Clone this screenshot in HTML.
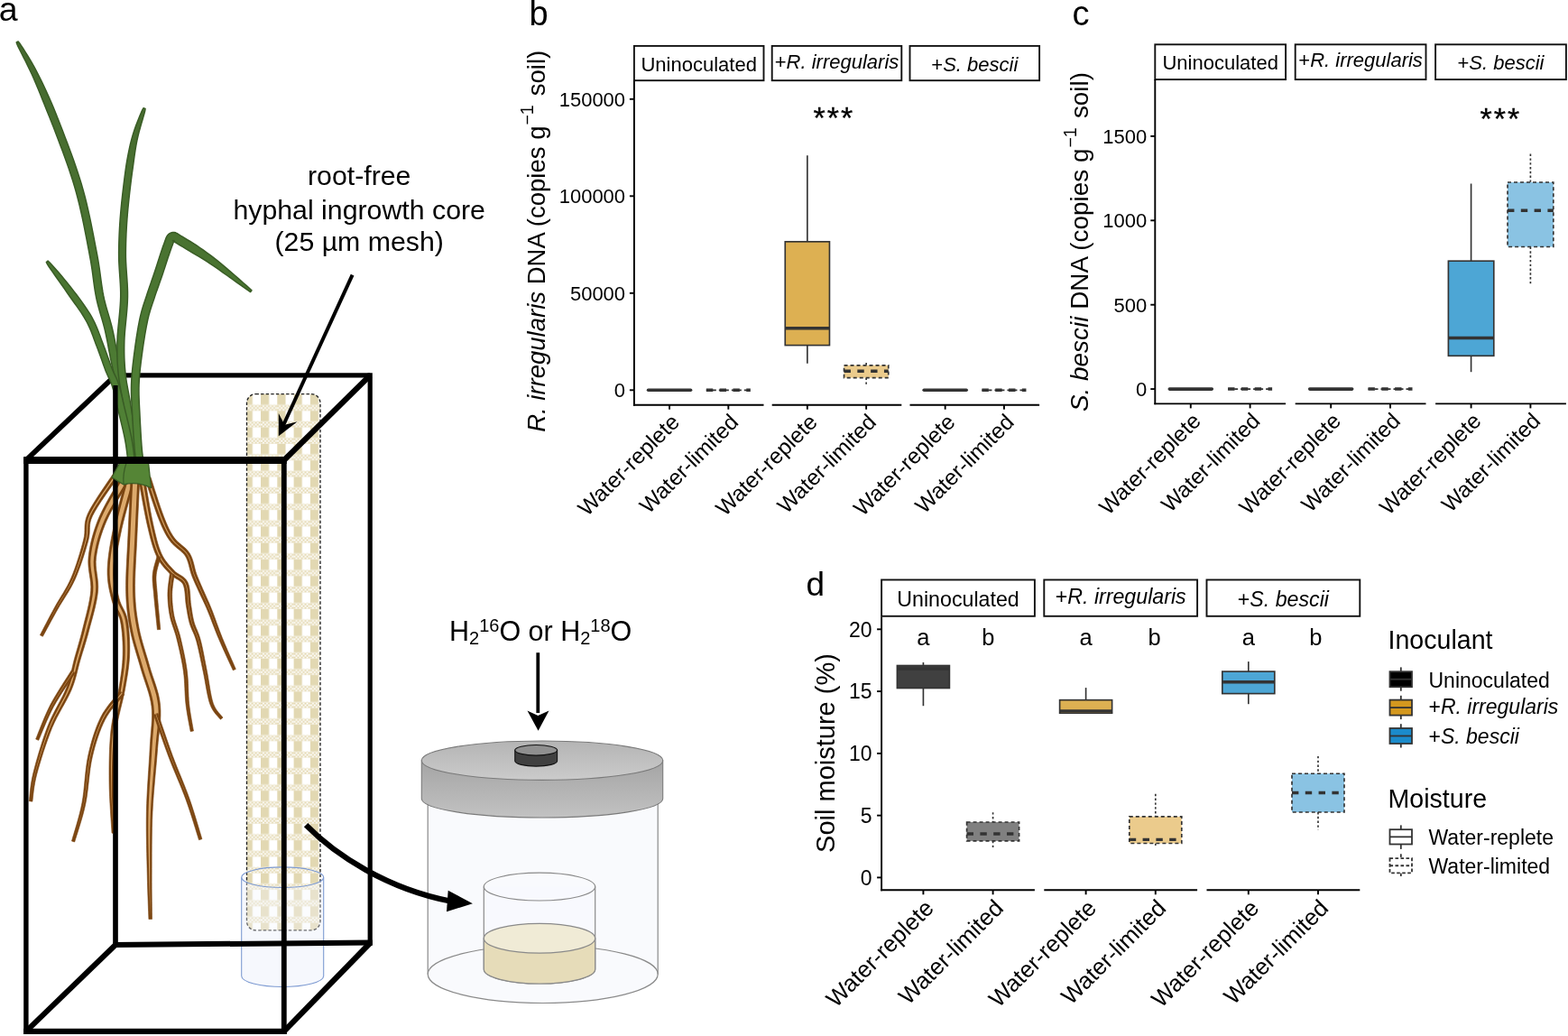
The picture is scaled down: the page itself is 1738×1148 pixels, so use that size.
<!DOCTYPE html>
<html><head><meta charset="utf-8"><style>
html,body{margin:0;padding:0;background:#fff;}
svg{display:block;}
text{font-family:"Liberation Sans", Arial, Helvetica, sans-serif;fill:#000;}
</style></head><body>
<svg width="1738" height="1148" viewBox="0 0 1738 1148">
<rect width="1738" height="1148" fill="#fff"/>
<rect x="702.9" y="50.9" width="143.6" height="38.3" fill="#fff" stroke="#111" stroke-width="1.9"/>
<text x="774.7" y="78.8" font-size="22" text-anchor="middle" >Uninoculated</text>
<rect x="855.7" y="50.9" width="143.6" height="38.3" fill="#fff" stroke="#111" stroke-width="1.9"/>
<text x="927.5" y="76.1" font-size="22" text-anchor="middle" >+<tspan font-style="italic">R. irregularis</tspan></text>
<rect x="1008.5" y="50.9" width="143.6" height="38.3" fill="#fff" stroke="#111" stroke-width="1.9"/>
<text x="1080.3" y="78.8" font-size="22" text-anchor="middle" >+<tspan font-style="italic">S. bescii</tspan></text>
<line x1="702.9" y1="89.2" x2="702.9" y2="449.65" stroke="#000" stroke-width="1.9" />
<line x1="701.95" y1="448.7" x2="846.5" y2="448.7" stroke="#000" stroke-width="1.9" />
<line x1="855.7" y1="448.7" x2="999.3" y2="448.7" stroke="#000" stroke-width="1.9" />
<line x1="1008.5" y1="448.7" x2="1152.1" y2="448.7" stroke="#000" stroke-width="1.9" />
<line x1="697.9" y1="432.3" x2="702.9" y2="432.3" stroke="#000" stroke-width="1.9" />
<text x="693.1" y="440.18" font-size="22" text-anchor="end" >0</text>
<line x1="697.9" y1="324.8" x2="702.9" y2="324.8" stroke="#000" stroke-width="1.9" />
<text x="693.1" y="332.68" font-size="22" text-anchor="end" >50000</text>
<line x1="697.9" y1="217.3" x2="702.9" y2="217.3" stroke="#000" stroke-width="1.9" />
<text x="693.1" y="225.18" font-size="22" text-anchor="end" >100000</text>
<line x1="697.9" y1="109.8" x2="702.9" y2="109.8" stroke="#000" stroke-width="1.9" />
<text x="693.1" y="117.68" font-size="22" text-anchor="end" >150000</text>
<line x1="742.06" y1="448.7" x2="742.06" y2="453.7" stroke="#000" stroke-width="1.9" />
<line x1="807.34" y1="448.7" x2="807.34" y2="453.7" stroke="#000" stroke-width="1.9" />
<line x1="894.86" y1="448.7" x2="894.86" y2="453.7" stroke="#000" stroke-width="1.9" />
<line x1="960.14" y1="448.7" x2="960.14" y2="453.7" stroke="#000" stroke-width="1.9" />
<line x1="1047.66" y1="448.7" x2="1047.66" y2="453.7" stroke="#000" stroke-width="1.9" />
<line x1="1112.94" y1="448.7" x2="1112.94" y2="453.7" stroke="#000" stroke-width="1.9" />
<text x="754.56" y="469.2" font-size="24.4" text-anchor="end" transform="rotate(-45 754.56 469.2)">Water-replete</text>
<text x="819.84" y="469.2" font-size="24.4" text-anchor="end" transform="rotate(-45 819.84 469.2)">Water-limited</text>
<text x="907.36" y="469.2" font-size="24.4" text-anchor="end" transform="rotate(-45 907.36 469.2)">Water-replete</text>
<text x="972.64" y="469.2" font-size="24.4" text-anchor="end" transform="rotate(-45 972.64 469.2)">Water-limited</text>
<text x="1060.16" y="469.2" font-size="24.4" text-anchor="end" transform="rotate(-45 1060.16 469.2)">Water-replete</text>
<text x="1125.44" y="469.2" font-size="24.4" text-anchor="end" transform="rotate(-45 1125.44 469.2)">Water-limited</text>
<line x1="718.56" y1="432.3" x2="765.56" y2="432.3" stroke="#333333" stroke-width="3.6" stroke-linecap="round"/>
<line x1="782.84" y1="432.3" x2="831.84" y2="432.3" stroke="#333333" stroke-width="1.7" stroke-dasharray="4 3"/>
<line x1="782.84" y1="432.3" x2="831.84" y2="432.3" stroke="#333333" stroke-width="3.5" stroke-dasharray="7.4 7.4"/>
<line x1="1024.16" y1="432.3" x2="1071.16" y2="432.3" stroke="#333333" stroke-width="3.6" stroke-linecap="round"/>
<line x1="1088.44" y1="432.3" x2="1137.44" y2="432.3" stroke="#333333" stroke-width="1.7" stroke-dasharray="4 3"/>
<line x1="1088.44" y1="432.3" x2="1137.44" y2="432.3" stroke="#333333" stroke-width="3.5" stroke-dasharray="7.4 7.4"/>
<line x1="894.86" y1="172.2" x2="894.86" y2="267.8" stroke="#333333" stroke-width="1.65" />
<line x1="894.86" y1="382.6" x2="894.86" y2="402.7" stroke="#333333" stroke-width="1.65" />
<rect x="870.26" y="267.8" width="49.2" height="114.8" fill="#DDB052" stroke="#333333" stroke-width="1.65" />
<line x1="870.26" y1="363.7" x2="919.46" y2="363.7" stroke="#333333" stroke-width="3.4" />
<line x1="960.14" y1="402" x2="960.14" y2="404.8" stroke="#333333" stroke-width="1.65" stroke-dasharray="2.4 2.4"/>
<line x1="960.14" y1="418.6" x2="960.14" y2="426.5" stroke="#333333" stroke-width="1.65" stroke-dasharray="2.4 2.4"/>
<rect x="935.54" y="404.8" width="49.2" height="13.8" fill="#EBCB8C" stroke="#333333" stroke-width="1.65" stroke-dasharray="4 3"/>
<line x1="935.54" y1="411.3" x2="984.74" y2="411.3" stroke="#333333" stroke-width="3.4" stroke-dasharray="7.4 7.4"/>
<text x="924.4" y="141.6" font-size="34" text-anchor="middle" letter-spacing="2.1" stroke="#000" stroke-width="0.35">***</text>
<text x="603.7" y="267.3" font-size="27.5" text-anchor="middle" transform="rotate(-90 603.7 267.3)"><tspan font-style="italic">R. irregularis</tspan> DNA (copies g<tspan font-size="19.5" dy="-12.5" dx="1">−1</tspan><tspan dy="12.5" dx="2.5"> soil)</tspan></text>
<text x="586.6" y="27.6" font-size="38" text-anchor="start" >b</text>
<rect x="1280.3" y="49.3" width="144.8" height="38.8" fill="#fff" stroke="#111" stroke-width="1.9"/>
<text x="1352.7" y="76.8" font-size="22" text-anchor="middle" >Uninoculated</text>
<rect x="1435.7" y="49.3" width="144.8" height="38.8" fill="#fff" stroke="#111" stroke-width="1.9"/>
<text x="1508.1" y="74.1" font-size="22" text-anchor="middle" >+<tspan font-style="italic">R. irregularis</tspan></text>
<rect x="1591.1" y="49.3" width="144.8" height="38.8" fill="#fff" stroke="#111" stroke-width="1.9"/>
<text x="1663.5" y="76.8" font-size="22" text-anchor="middle" >+<tspan font-style="italic">S. bescii</tspan></text>
<line x1="1280.3" y1="88.1" x2="1280.3" y2="448.35" stroke="#000" stroke-width="1.9" />
<line x1="1279.35" y1="447.4" x2="1425.1" y2="447.4" stroke="#000" stroke-width="1.9" />
<line x1="1435.7" y1="447.4" x2="1580.5" y2="447.4" stroke="#000" stroke-width="1.9" />
<line x1="1591.1" y1="447.4" x2="1735.9" y2="447.4" stroke="#000" stroke-width="1.9" />
<line x1="1275.3" y1="431.1" x2="1280.3" y2="431.1" stroke="#000" stroke-width="1.9" />
<text x="1271.3" y="438.98" font-size="22" text-anchor="end" >0</text>
<line x1="1275.3" y1="337.7" x2="1280.3" y2="337.7" stroke="#000" stroke-width="1.9" />
<text x="1271.3" y="345.58" font-size="22" text-anchor="end" >500</text>
<line x1="1275.3" y1="244.3" x2="1280.3" y2="244.3" stroke="#000" stroke-width="1.9" />
<text x="1271.3" y="252.18" font-size="22" text-anchor="end" >1000</text>
<line x1="1275.3" y1="150.9" x2="1280.3" y2="150.9" stroke="#000" stroke-width="1.9" />
<text x="1271.3" y="158.78" font-size="22" text-anchor="end" >1500</text>
<line x1="1319.79" y1="447.4" x2="1319.79" y2="452.4" stroke="#000" stroke-width="1.9" />
<line x1="1385.61" y1="447.4" x2="1385.61" y2="452.4" stroke="#000" stroke-width="1.9" />
<line x1="1475.19" y1="447.4" x2="1475.19" y2="452.4" stroke="#000" stroke-width="1.9" />
<line x1="1541.01" y1="447.4" x2="1541.01" y2="452.4" stroke="#000" stroke-width="1.9" />
<line x1="1630.59" y1="447.4" x2="1630.59" y2="452.4" stroke="#000" stroke-width="1.9" />
<line x1="1696.41" y1="447.4" x2="1696.41" y2="452.4" stroke="#000" stroke-width="1.9" />
<text x="1332.29" y="467.9" font-size="24.4" text-anchor="end" transform="rotate(-45 1332.29 467.9)">Water-replete</text>
<text x="1398.11" y="467.9" font-size="24.4" text-anchor="end" transform="rotate(-45 1398.11 467.9)">Water-limited</text>
<text x="1487.69" y="467.9" font-size="24.4" text-anchor="end" transform="rotate(-45 1487.69 467.9)">Water-replete</text>
<text x="1553.51" y="467.9" font-size="24.4" text-anchor="end" transform="rotate(-45 1553.51 467.9)">Water-limited</text>
<text x="1643.09" y="467.9" font-size="24.4" text-anchor="end" transform="rotate(-45 1643.09 467.9)">Water-replete</text>
<text x="1708.91" y="467.9" font-size="24.4" text-anchor="end" transform="rotate(-45 1708.91 467.9)">Water-limited</text>
<line x1="1296.29" y1="431.1" x2="1343.29" y2="431.1" stroke="#333333" stroke-width="3.6" stroke-linecap="round"/>
<line x1="1361.11" y1="431.1" x2="1410.11" y2="431.1" stroke="#333333" stroke-width="1.7" stroke-dasharray="4 3"/>
<line x1="1361.11" y1="431.1" x2="1410.11" y2="431.1" stroke="#333333" stroke-width="3.5" stroke-dasharray="7.4 7.4"/>
<line x1="1451.69" y1="431.1" x2="1498.69" y2="431.1" stroke="#333333" stroke-width="3.6" stroke-linecap="round"/>
<line x1="1516.51" y1="431.1" x2="1565.51" y2="431.1" stroke="#333333" stroke-width="1.7" stroke-dasharray="4 3"/>
<line x1="1516.51" y1="431.1" x2="1565.51" y2="431.1" stroke="#333333" stroke-width="3.5" stroke-dasharray="7.4 7.4"/>
<line x1="1630.59" y1="203.5" x2="1630.59" y2="289.2" stroke="#333333" stroke-width="1.65" />
<line x1="1630.59" y1="394.3" x2="1630.59" y2="412.2" stroke="#333333" stroke-width="1.65" />
<rect x="1605.39" y="289.2" width="50.4" height="105.1" fill="#4DA6D5" stroke="#333333" stroke-width="1.65" />
<line x1="1605.39" y1="374.5" x2="1655.79" y2="374.5" stroke="#333333" stroke-width="3.4" />
<line x1="1696.41" y1="170.6" x2="1696.41" y2="202" stroke="#333333" stroke-width="1.65" stroke-dasharray="2.4 2.4"/>
<line x1="1696.41" y1="273.5" x2="1696.41" y2="315.8" stroke="#333333" stroke-width="1.65" stroke-dasharray="2.4 2.4"/>
<rect x="1671.01" y="202" width="50.8" height="71.5" fill="#8AC3E3" stroke="#333333" stroke-width="1.65" stroke-dasharray="4 3"/>
<line x1="1671.01" y1="233.3" x2="1721.81" y2="233.3" stroke="#333333" stroke-width="3.4" stroke-dasharray="7.4 7.4"/>
<text x="1663.4" y="143.2" font-size="34" text-anchor="middle" letter-spacing="2.1" stroke="#000" stroke-width="0.35">***</text>
<text x="1205.8" y="268" font-size="27.9" text-anchor="middle" transform="rotate(-90 1205.8 268)"><tspan font-style="italic">S. bescii</tspan> DNA (copies g<tspan font-size="19.5" dy="-12.5" dx="1">−1</tspan><tspan dy="12.5" dx="2.5"> soil)</tspan></text>
<text x="1188.4" y="27.7" font-size="38" text-anchor="start" >c</text>
<rect x="977.1" y="642.5" width="169.8" height="40.3" fill="#fff" stroke="#111" stroke-width="1.9"/>
<text x="1062" y="671.6" font-size="23.2" text-anchor="middle" >Uninoculated</text>
<rect x="1157.3" y="642.5" width="169.8" height="40.3" fill="#fff" stroke="#111" stroke-width="1.9"/>
<text x="1242.2" y="668.9" font-size="23.2" text-anchor="middle" >+<tspan font-style="italic">R. irregularis</tspan></text>
<rect x="1337.5" y="642.5" width="169.8" height="40.3" fill="#fff" stroke="#111" stroke-width="1.9"/>
<text x="1422.4" y="671.6" font-size="23.2" text-anchor="middle" >+<tspan font-style="italic">S. bescii</tspan></text>
<line x1="977.1" y1="683.5" x2="977.1" y2="987.25" stroke="#000" stroke-width="1.9" />
<line x1="976.15" y1="986.3" x2="1146.9" y2="986.3" stroke="#000" stroke-width="1.9" />
<line x1="1157.3" y1="986.3" x2="1327.1" y2="986.3" stroke="#000" stroke-width="1.9" />
<line x1="1337.5" y1="986.3" x2="1507.3" y2="986.3" stroke="#000" stroke-width="1.9" />
<line x1="972.1" y1="972.4" x2="977.1" y2="972.4" stroke="#000" stroke-width="1.9" />
<text x="966.5" y="980.63" font-size="23" text-anchor="end" >0</text>
<line x1="972.1" y1="903.63" x2="977.1" y2="903.63" stroke="#000" stroke-width="1.9" />
<text x="966.5" y="911.86" font-size="23" text-anchor="end" >5</text>
<line x1="972.1" y1="834.86" x2="977.1" y2="834.86" stroke="#000" stroke-width="1.9" />
<text x="966.5" y="843.09" font-size="23" text-anchor="end" >10</text>
<line x1="972.1" y1="766.09" x2="977.1" y2="766.09" stroke="#000" stroke-width="1.9" />
<text x="966.5" y="774.32" font-size="23" text-anchor="end" >15</text>
<line x1="972.1" y1="697.32" x2="977.1" y2="697.32" stroke="#000" stroke-width="1.9" />
<text x="966.5" y="705.55" font-size="23" text-anchor="end" >20</text>
<line x1="1023.41" y1="986.3" x2="1023.41" y2="991.3" stroke="#000" stroke-width="1.9" />
<line x1="1100.59" y1="986.3" x2="1100.59" y2="991.3" stroke="#000" stroke-width="1.9" />
<line x1="1203.61" y1="986.3" x2="1203.61" y2="991.3" stroke="#000" stroke-width="1.9" />
<line x1="1280.79" y1="986.3" x2="1280.79" y2="991.3" stroke="#000" stroke-width="1.9" />
<line x1="1383.81" y1="986.3" x2="1383.81" y2="991.3" stroke="#000" stroke-width="1.9" />
<line x1="1460.99" y1="986.3" x2="1460.99" y2="991.3" stroke="#000" stroke-width="1.9" />
<text x="1036.41" y="1007.8" font-size="25.8" text-anchor="end" transform="rotate(-45 1036.41 1007.8)">Water-replete</text>
<text x="1113.59" y="1007.8" font-size="25.8" text-anchor="end" transform="rotate(-45 1113.59 1007.8)">Water-limited</text>
<text x="1216.61" y="1007.8" font-size="25.8" text-anchor="end" transform="rotate(-45 1216.61 1007.8)">Water-replete</text>
<text x="1293.79" y="1007.8" font-size="25.8" text-anchor="end" transform="rotate(-45 1293.79 1007.8)">Water-limited</text>
<text x="1396.81" y="1007.8" font-size="25.8" text-anchor="end" transform="rotate(-45 1396.81 1007.8)">Water-replete</text>
<text x="1473.99" y="1007.8" font-size="25.8" text-anchor="end" transform="rotate(-45 1473.99 1007.8)">Water-limited</text>
<line x1="1023.41" y1="734" x2="1023.41" y2="737.5" stroke="#333333" stroke-width="1.65" />
<line x1="1023.41" y1="762.5" x2="1023.41" y2="782.2" stroke="#333333" stroke-width="1.65" />
<rect x="994.41" y="737.5" width="58" height="25" fill="#404040" stroke="#333333" stroke-width="1.65" />
<line x1="994.41" y1="741" x2="1052.41" y2="741" stroke="#333333" stroke-width="3.4" />
<text x="1023.41" y="714.5" font-size="25.5" text-anchor="middle" >a</text>
<line x1="1100.59" y1="900.2" x2="1100.59" y2="911" stroke="#333333" stroke-width="1.65" stroke-dasharray="2.4 2.4"/>
<line x1="1100.59" y1="931.9" x2="1100.59" y2="940.2" stroke="#333333" stroke-width="1.65" stroke-dasharray="2.4 2.4"/>
<rect x="1071.59" y="911" width="58" height="20.9" fill="#808080" stroke="#333333" stroke-width="1.65" stroke-dasharray="4 3"/>
<line x1="1071.59" y1="924" x2="1129.59" y2="924" stroke="#333333" stroke-width="3.4" stroke-dasharray="7.4 7.4"/>
<text x="1095.3" y="714.5" font-size="25.5" text-anchor="middle" >b</text>
<line x1="1203.61" y1="762.1" x2="1203.61" y2="775.7" stroke="#333333" stroke-width="1.65" />
<rect x="1174.61" y="775.7" width="58" height="14.5" fill="#DDB052" stroke="#333333" stroke-width="1.65" />
<line x1="1174.61" y1="787.9" x2="1232.61" y2="787.9" stroke="#333333" stroke-width="3.4" />
<text x="1203.61" y="714.5" font-size="25.5" text-anchor="middle" >a</text>
<line x1="1280.79" y1="879.8" x2="1280.79" y2="904.9" stroke="#333333" stroke-width="1.65" stroke-dasharray="2.4 2.4"/>
<line x1="1280.79" y1="934.5" x2="1280.79" y2="937.8" stroke="#333333" stroke-width="1.65" stroke-dasharray="2.4 2.4"/>
<rect x="1251.79" y="904.9" width="58" height="29.6" fill="#EBCB8C" stroke="#333333" stroke-width="1.65" stroke-dasharray="4 3"/>
<line x1="1251.79" y1="930.4" x2="1309.79" y2="930.4" stroke="#333333" stroke-width="3.4" stroke-dasharray="7.4 7.4"/>
<text x="1279.5" y="714.5" font-size="25.5" text-anchor="middle" >b</text>
<line x1="1383.81" y1="733.1" x2="1383.81" y2="744.1" stroke="#333333" stroke-width="1.65" />
<line x1="1383.81" y1="768.6" x2="1383.81" y2="780.2" stroke="#333333" stroke-width="1.65" />
<rect x="1354.81" y="744.1" width="58" height="24.5" fill="#4DA6D5" stroke="#333333" stroke-width="1.65" />
<line x1="1354.81" y1="755.7" x2="1412.81" y2="755.7" stroke="#333333" stroke-width="3.4" />
<text x="1383.81" y="714.5" font-size="25.5" text-anchor="middle" >a</text>
<line x1="1460.99" y1="837.9" x2="1460.99" y2="857.2" stroke="#333333" stroke-width="1.65" stroke-dasharray="2.4 2.4"/>
<line x1="1460.99" y1="900" x2="1460.99" y2="919.4" stroke="#333333" stroke-width="1.65" stroke-dasharray="2.4 2.4"/>
<rect x="1431.99" y="857.2" width="58" height="42.8" fill="#8AC3E3" stroke="#333333" stroke-width="1.65" stroke-dasharray="4 3"/>
<line x1="1431.99" y1="878.5" x2="1489.99" y2="878.5" stroke="#333333" stroke-width="3.4" stroke-dasharray="7.4 7.4"/>
<text x="1458.4" y="714.5" font-size="25.5" text-anchor="middle" >b</text>
<text x="925" y="834.5" font-size="29" text-anchor="middle" transform="rotate(-90 925 834.5)">Soil moisture (%)</text>
<text x="893.6" y="660.4" font-size="37" text-anchor="start" >d</text>
<text x="1538.5" y="719.4" font-size="28.6" text-anchor="start" >Inoculant</text>
<line x1="1552.8" y1="739.4" x2="1552.8" y2="765.7" stroke="#333333" stroke-width="1.8" />
<rect x="1540.5" y="744.2" width="24.5" height="17" fill="#000" stroke="#333333" stroke-width="1.8"/>
<line x1="1540.5" y1="752.7" x2="1565" y2="752.7" stroke="#333333" stroke-width="1.8" />
<text x="1583.5" y="761.5" font-size="23" text-anchor="start" >Uninoculated</text>
<line x1="1552.8" y1="770.8" x2="1552.8" y2="797.1" stroke="#333333" stroke-width="1.8" />
<rect x="1540.5" y="775.6" width="24.5" height="17" fill="#D4981E" stroke="#333333" stroke-width="1.8"/>
<line x1="1540.5" y1="784.1" x2="1565" y2="784.1" stroke="#333333" stroke-width="1.8" />
<text x="1583.5" y="790.9" font-size="23" text-anchor="start" >+<tspan font-style="italic">R. irregularis</tspan></text>
<line x1="1552.8" y1="802.2" x2="1552.8" y2="828.5" stroke="#333333" stroke-width="1.8" />
<rect x="1540.5" y="807" width="24.5" height="17" fill="#1B8BCB" stroke="#333333" stroke-width="1.8"/>
<line x1="1540.5" y1="815.5" x2="1565" y2="815.5" stroke="#333333" stroke-width="1.8" />
<text x="1583.5" y="824.3" font-size="23" text-anchor="start" >+<tspan font-style="italic">S. bescii</tspan></text>
<text x="1538.5" y="894.7" font-size="28.6" text-anchor="start" >Moisture</text>
<line x1="1552.8" y1="914.4" x2="1552.8" y2="919.2" stroke="#333333" stroke-width="1.8" />
<line x1="1552.8" y1="935.5" x2="1552.8" y2="940.9" stroke="#333333" stroke-width="1.8" />
<rect x="1540.5" y="919.2" width="24.5" height="16.3" fill="#fff" stroke="#333333" stroke-width="1.8" />
<line x1="1540.5" y1="927.35" x2="1565" y2="927.35" stroke="#333333" stroke-width="1.8" />
<text x="1583.5" y="935.8" font-size="23" text-anchor="start" >Water-replete</text>
<line x1="1552.8" y1="946.3" x2="1552.8" y2="951.1" stroke="#333333" stroke-width="1.8" stroke-dasharray="3.6 2.4"/>
<line x1="1552.8" y1="967.4" x2="1552.8" y2="972.8" stroke="#333333" stroke-width="1.8" stroke-dasharray="3.6 2.4"/>
<rect x="1540.5" y="951.1" width="24.5" height="16.3" fill="#fff" stroke="#333333" stroke-width="1.8" stroke-dasharray="3.6 2.4"/>
<line x1="1540.5" y1="959.25" x2="1565" y2="959.25" stroke="#333333" stroke-width="1.8" stroke-dasharray="3.6 2.4"/>
<text x="1583.5" y="967.7" font-size="23" text-anchor="start" >Water-limited</text>
<text x="-1.2" y="22.9" font-size="37.5" text-anchor="start" >a</text>
<defs>
<pattern id="fine" x="0" y="0" width="4" height="4" patternUnits="userSpaceOnUse">
<rect width="4" height="4" fill="#fff"/><rect width="2" height="2" fill="#E2D6AC"/><rect x="2" y="2" width="2" height="2" fill="#E2D6AC"/></pattern>
<pattern id="mesh" x="270.7" y="455.4" width="18.3" height="18.3" patternUnits="userSpaceOnUse">
<rect width="18.3" height="18.3" fill="url(#fine)"/>
<rect x="0" y="0" width="18.3" height="11.3" fill="#fff"/>
<rect x="0" y="0" width="9.2" height="11.3" fill="#E2D8B2"/>
</pattern>
<linearGradient id="lidtop" x1="0" y1="0" x2="0" y2="1"><stop offset="0" stop-color="#B4B4B4"/><stop offset="1" stop-color="#CBCBCB"/></linearGradient>
<linearGradient id="lidside" x1="0" y1="0" x2="0" y2="1"><stop offset="0" stop-color="#A4A4A4"/><stop offset="1" stop-color="#C2C2C2"/></linearGradient>
</defs>
<path d="M267.7 972.2 L267.7 1081.5 A45.5 12 0 0 0 358.7 1081.5 L358.7 972.2 Z" fill="#F8F9FE"/>
<rect x="273.5" y="436.6" width="81.5" height="594.3" rx="10" ry="10" fill="url(#mesh)" stroke="#222" stroke-width="1.35" stroke-dasharray="3.4 2.2"/>
<path d="M267.7 972.2 A45.5 11.3 0 0 0 358.7 972.2 L358.7 1081.5 A45.5 12 0 0 1 267.7 1081.5 Z" fill="#F3F5FD" fill-opacity="0.35"/>
<ellipse cx="313.2" cy="972.2" rx="45.5" ry="11.3" fill="none" stroke="#7E9BD2" stroke-width="1.1"/>
<path d="M267.7 972.2 L267.7 1081.5 A45.5 12 0 0 0 358.7 1081.5 L358.7 972.2" fill="none" stroke="#7E9BD2" stroke-width="1.1"/>
<line x1="128" y1="415.9" x2="410.2" y2="415.9" stroke="#000" stroke-width="5.2" />
<line x1="410.2" y1="413.3" x2="410.2" y2="1047.5" stroke="#000" stroke-width="5.2" />
<line x1="128" y1="413.3" x2="128" y2="1047.5" stroke="#000" stroke-width="5.2" />
<line x1="28.9" y1="509.9" x2="128" y2="415.9" stroke="#000" stroke-width="5.6" />
<defs><linearGradient id="leafg" gradientUnits="userSpaceOnUse" x1="0" y1="40" x2="0" y2="515"><stop offset="0" stop-color="#46692F"/><stop offset="0.6" stop-color="#4A7531"/><stop offset="1" stop-color="#528537"/></linearGradient></defs>
<path d="M18.24 47.03 L19.1 49.5 L20.46 52.41 L22.13 55.75 L24.03 59.5 L26.12 63.59 L28.34 67.96 L30.63 72.58 L32.95 77.37 L35.25 82.28 L37.47 87.27 L39.7 92.47 L42.02 98.01 L44.4 103.82 L46.84 109.86 L49.31 116.08 L51.87 122.39 L54.46 128.77 L57.01 135.19 L59.51 141.59 L61.95 147.93 L64.35 154.27 L66.76 160.65 L69.16 167.08 L71.53 173.55 L73.87 180.06 L76.16 186.62 L78.38 193.22 L80.51 199.87 L82.56 206.55 L84.49 213.28 L86.32 220.2 L88.09 227.38 L89.79 234.75 L91.42 242.21 L92.97 249.66 L94.45 257.03 L95.85 264.22 L97.17 271.13 L98.41 277.68 L99.56 283.75 L100.58 289.34 L101.43 294.55 L102.17 299.46 L102.81 304.12 L103.4 308.58 L103.97 312.89 L104.54 317.11 L105.16 321.27 L105.85 325.43 L106.65 329.63 L107.55 333.76 L108.52 337.73 L109.53 341.55 L110.56 345.24 L111.61 348.84 L112.65 352.37 L113.67 355.86 L114.65 359.33 L115.58 362.82 L116.45 366.35 L117.27 370 L118.06 373.76 L118.83 377.57 L119.56 381.41 L120.28 385.24 L120.99 389.01 L121.68 392.7 L122.36 396.27 L123.04 399.68 L123.72 402.89 L124.38 405.86 L125.03 408.62 L125.66 411.2 L126.27 413.64 L126.87 415.97 L127.47 418.23 L128.06 420.46 L128.64 422.69 L129.23 424.97 L129.84 427.34 L130.45 429.72 L131.05 431.97 L131.65 434.12 L132.23 436.24 L132.82 438.37 L133.4 440.58 L134 442.94 L134.6 445.51 L135.22 448.34 L135.87 451.51 L136.57 455.18 L137.32 459.35 L138.12 463.9 L138.94 468.69 L139.76 473.59 L140.55 478.47 L141.31 483.2 L142 487.65 L142.6 491.69 L143.1 495.18 L143.5 498.2 L143.81 500.96 L144.05 503.47 L144.23 505.75 L144.37 507.8 L144.47 509.66 L144.55 511.32 L144.61 512.8 L144.68 514.14 L144.76 515.29 L153.24 514.71 L153.17 513.64 L153.1 512.4 L153.03 510.92 L152.95 509.22 L152.84 507.28 L152.7 505.12 L152.5 502.71 L152.24 500.07 L151.91 497.17 L151.5 494.02 L150.98 490.46 L150.36 486.37 L149.66 481.88 L148.9 477.12 L148.09 472.21 L147.26 467.28 L146.43 462.45 L145.62 457.86 L144.85 453.63 L144.13 449.89 L143.46 446.6 L142.8 443.64 L142.17 440.95 L141.54 438.48 L140.93 436.18 L140.33 434 L139.74 431.87 L139.15 429.76 L138.56 427.58 L137.96 425.26 L137.36 422.88 L136.75 420.57 L136.16 418.32 L135.57 416.09 L134.98 413.85 L134.38 411.56 L133.78 409.18 L133.17 406.67 L132.53 403.99 L131.88 401.11 L131.22 398 L130.55 394.67 L129.88 391.15 L129.19 387.48 L128.48 383.7 L127.75 379.85 L127 375.96 L126.22 372.08 L125.4 368.23 L124.55 364.45 L123.63 360.75 L122.66 357.12 L121.65 353.56 L120.61 350.03 L119.57 346.51 L118.53 342.96 L117.52 339.37 L116.54 335.69 L115.61 331.9 L114.75 327.97 L113.98 323.98 L113.32 319.99 L112.71 315.94 L112.14 311.79 L111.57 307.5 L110.97 303.01 L110.31 298.28 L109.56 293.27 L108.67 287.93 L107.64 282.25 L106.47 276.14 L105.22 269.59 L103.89 262.66 L102.47 255.44 L100.98 248.02 L99.4 240.5 L97.74 232.96 L96.01 225.49 L94.2 218.18 L92.31 211.12 L90.34 204.25 L88.25 197.44 L86.07 190.69 L83.81 184 L81.49 177.36 L79.12 170.79 L76.72 164.27 L74.3 157.81 L71.87 151.41 L69.45 145.07 L67 138.69 L64.47 132.24 L61.89 125.78 L59.27 119.36 L56.61 113.03 L53.86 106.88 L51.14 100.9 L48.46 95.16 L45.85 89.68 L43.33 84.53 L40.79 79.57 L38.16 74.7 L35.51 69.98 L32.88 65.48 L30.32 61.24 L27.88 57.31 L25.62 53.76 L23.57 50.63 L21.79 47.99 L20.16 45.97 Z" fill="url(#leafg)" stroke="#395C25" stroke-width="1.5" stroke-linejoin="round"/>
<path d="M158.95 119.76 L157.78 121.9 L156.57 124.61 L155.19 127.81 L153.68 131.46 L152.09 135.49 L150.45 139.87 L148.81 144.56 L147.23 149.49 L145.75 154.64 L144.41 159.94 L143.17 165.57 L141.95 171.68 L140.75 178.18 L139.67 184.97 L138.69 191.95 L137.76 198.98 L136.89 205.98 L136.08 212.82 L135.35 219.4 L134.69 225.62 L134.12 231.53 L133.61 237.3 L133.16 242.92 L132.78 248.43 L132.46 253.83 L132.2 259.15 L131.99 264.41 L131.82 269.62 L131.71 274.8 L131.64 279.99 L131.67 285.16 L131.82 290.25 L132.08 295.24 L132.39 300.16 L132.73 305 L133.06 309.79 L133.36 314.54 L133.59 319.27 L133.72 324 L133.71 328.74 L133.56 333.56 L133.27 338.49 L132.88 343.5 L132.42 348.54 L131.92 353.58 L131.42 358.58 L130.94 363.51 L130.52 368.32 L130.19 372.99 L129.99 377.46 L129.88 381.67 L129.83 385.66 L129.82 389.47 L129.87 393.16 L129.96 396.75 L130.11 400.28 L130.3 403.78 L130.54 407.29 L130.84 410.85 L131.18 414.51 L131.6 418.19 L132.09 421.79 L132.64 425.33 L133.24 428.84 L133.89 432.35 L134.56 435.91 L135.24 439.55 L135.93 443.3 L136.62 447.21 L137.29 451.32 L137.99 455.84 L138.76 460.81 L139.56 466.09 L140.38 471.53 L141.2 477.01 L142 482.38 L142.76 487.5 L143.45 492.25 L144.05 496.47 L144.55 500.04 L144.93 502.97 L145.23 505.44 L145.45 507.49 L145.61 509.19 L145.72 510.59 L145.8 511.76 L145.85 512.75 L145.9 513.65 L145.95 514.51 L146.01 515.33 L153.99 514.67 L153.93 513.95 L153.88 513.2 L153.84 512.32 L153.78 511.27 L153.69 510.01 L153.57 508.49 L153.4 506.68 L153.16 504.52 L152.85 501.97 L152.45 498.96 L151.95 495.35 L151.34 491.11 L150.64 486.34 L149.88 481.21 L149.07 475.83 L148.24 470.35 L147.41 464.89 L146.6 459.61 L145.82 454.63 L145.11 450.08 L144.42 445.88 L143.72 441.9 L143.01 438.09 L142.32 434.44 L141.65 430.91 L141.02 427.45 L140.42 424.05 L139.89 420.65 L139.42 417.21 L139.02 413.69 L138.68 410.15 L138.39 406.69 L138.15 403.28 L137.96 399.89 L137.81 396.48 L137.72 393 L137.67 389.43 L137.67 385.71 L137.72 381.82 L137.81 377.74 L138.01 373.44 L138.32 368.93 L138.73 364.22 L139.19 359.35 L139.69 354.35 L140.19 349.28 L140.65 344.15 L141.04 339.02 L141.33 333.91 L141.49 328.86 L141.49 323.89 L141.35 318.98 L141.11 314.11 L140.8 309.27 L140.46 304.45 L140.11 299.63 L139.8 294.8 L139.55 289.93 L139.39 285.02 L139.36 280.01 L139.42 274.93 L139.53 269.81 L139.68 264.68 L139.88 259.49 L140.14 254.25 L140.45 248.91 L140.82 243.48 L141.25 237.93 L141.74 232.24 L142.31 226.38 L142.95 220.22 L143.67 213.69 L144.47 206.89 L145.32 199.95 L146.23 192.97 L147.19 186.06 L148.12 179.32 L148.99 172.86 L149.88 166.79 L150.79 161.26 L151.78 156.08 L152.9 151.03 L154.12 146.13 L155.39 141.45 L156.65 137.03 L157.87 132.92 L158.98 129.16 L159.95 125.81 L160.71 122.9 L161.05 120.44 Z" fill="url(#leafg)" stroke="#395C25" stroke-width="1.5" stroke-linejoin="round"/>
<path d="M51.33 290.47 L52.41 292.66 L54.08 295.27 L56.13 298.29 L58.47 301.65 L61 305.25 L63.66 308.99 L66.35 312.79 L69 316.54 L71.53 320.15 L73.85 323.52 L76.09 326.77 L78.36 330.05 L80.68 333.28 L83.01 336.47 L85.3 339.65 L87.51 342.81 L89.64 345.93 L91.66 349.01 L93.54 352.04 L95.26 355.01 L96.82 357.93 L98.25 360.82 L99.55 363.7 L100.76 366.58 L101.9 369.44 L102.98 372.31 L104.04 375.17 L105.08 378.03 L106.15 380.89 L107.23 383.73 L108.31 386.54 L109.37 389.37 L110.4 392.21 L111.41 395.05 L112.4 397.85 L113.37 400.6 L114.31 403.28 L115.24 405.86 L116.15 408.33 L117.03 410.66 L117.9 412.81 L118.74 414.73 L119.54 416.47 L120.3 418.07 L121.02 419.56 L121.71 421.01 L122.36 422.46 L123 423.97 L123.63 425.61 L124.26 427.46 L124.88 429.45 L125.47 431.51 L126.03 433.63 L126.59 435.84 L127.15 438.14 L127.71 440.55 L128.3 443.09 L128.91 445.76 L129.56 448.58 L130.27 451.57 L131.05 454.79 L131.9 458.27 L132.8 461.95 L133.73 465.77 L134.67 469.66 L135.6 473.57 L136.49 477.42 L137.32 481.15 L138.07 484.7 L138.72 487.99 L139.28 491.17 L139.79 494.4 L140.24 497.64 L140.65 500.81 L141.01 503.87 L141.33 506.75 L141.61 509.4 L141.86 511.77 L142.08 513.81 L142.28 515.44 L149.72 514.56 L149.53 512.97 L149.32 510.98 L149.07 508.61 L148.78 505.94 L148.45 503.01 L148.08 499.89 L147.67 496.64 L147.2 493.3 L146.67 489.94 L146.08 486.61 L145.4 483.19 L144.63 479.56 L143.78 475.76 L142.88 471.86 L141.94 467.92 L140.99 464.01 L140.06 460.18 L139.15 456.49 L138.3 453.02 L137.53 449.83 L136.83 446.88 L136.18 444.08 L135.57 441.41 L134.98 438.86 L134.4 436.41 L133.83 434.05 L133.25 431.75 L132.65 429.51 L132.02 427.32 L131.34 425.14 L130.63 423.08 L129.92 421.2 L129.19 419.48 L128.47 417.88 L127.74 416.35 L127.02 414.85 L126.28 413.32 L125.54 411.7 L124.77 409.93 L123.97 407.94 L123.12 405.72 L122.24 403.32 L121.32 400.78 L120.38 398.12 L119.41 395.38 L118.42 392.56 L117.39 389.69 L116.34 386.8 L115.26 383.91 L114.17 381.07 L113.1 378.27 L112.05 375.46 L111.01 372.61 L109.94 369.7 L108.82 366.76 L107.63 363.77 L106.35 360.73 L104.95 357.65 L103.42 354.54 L101.74 351.39 L99.89 348.22 L97.9 345.03 L95.8 341.82 L93.6 338.59 L91.33 335.36 L89 332.13 L86.64 328.9 L84.23 325.71 L81.78 322.59 L79.35 319.48 L76.78 316.23 L73.98 312.77 L71.04 309.19 L68.04 305.6 L65.06 302.09 L62.18 298.75 L59.48 295.67 L57.03 292.96 L54.92 290.71 L53.07 289.13 Z" fill="url(#leafg)" stroke="#395C25" stroke-width="1.5" stroke-linejoin="round"/>
<path d="M278.98 321.84 L276.55 319.56 L273.31 316.64 L269.44 313.2 L265.09 309.36 L260.4 305.28 L255.53 301.08 L250.63 296.91 L245.85 292.9 L241.33 289.2 L237.21 285.93 L233.31 282.95 L229.37 280.04 L225.45 277.22 L221.59 274.51 L217.85 271.94 L214.23 269.6 L210.8 267.5 L207.65 265.6 L204.84 263.91 L202.44 262.48 L200.52 261.3 L199.01 260.35 L197.81 259.57 L196.81 258.93 L195.84 258.37 L194.66 257.83 L193.08 257.47 L191.43 257.51 L190.2 257.81 L189.19 258.18 L188.05 258.73 L186.82 259.59 L185.76 260.68 L184.96 261.84 L184.38 262.99 L183.89 264.15 L183.43 265.4 L182.93 266.81 L182.35 268.44 L181.63 270.4 L180.75 272.84 L179.75 275.74 L178.66 279 L177.51 282.5 L176.32 286.18 L175.11 289.91 L173.92 293.62 L172.77 297.19 L171.68 300.53 L170.68 303.54 L169.76 306.27 L168.87 308.84 L168.02 311.29 L167.2 313.65 L166.4 315.93 L165.61 318.19 L164.84 320.43 L164.07 322.7 L163.3 325.02 L162.53 327.4 L161.77 329.75 L161.01 332.02 L160.26 334.27 L159.51 336.53 L158.77 338.84 L158.03 341.24 L157.29 343.75 L156.57 346.4 L155.87 349.22 L155.18 352.25 L154.5 355.48 L153.83 358.91 L153.17 362.5 L152.53 366.22 L151.9 370.03 L151.28 373.9 L150.7 377.79 L150.14 381.67 L149.6 385.49 L149.11 389.23 L148.63 392.89 L148.17 396.56 L147.72 400.23 L147.29 403.91 L146.89 407.6 L146.52 411.29 L146.2 415 L145.93 418.71 L145.72 422.43 L145.57 426.16 L145.5 429.91 L145.5 433.64 L145.57 437.37 L145.68 441.08 L145.84 444.78 L146.03 448.47 L146.24 452.15 L146.46 455.81 L146.67 459.46 L146.87 463.11 L147.07 466.87 L147.29 470.78 L147.53 474.78 L147.78 478.8 L148.03 482.78 L148.3 486.66 L148.57 490.37 L148.84 493.85 L149.11 497.04 L149.38 499.89 L149.66 502.44 L149.96 504.75 L150.27 506.82 L150.6 508.68 L150.91 510.32 L151.21 511.76 L151.49 513.01 L151.73 514.08 L151.92 514.96 L152.07 515.74 L159.93 514.26 L159.77 513.38 L159.56 512.38 L159.32 511.29 L159.06 510.1 L158.79 508.76 L158.51 507.25 L158.22 505.55 L157.94 503.65 L157.67 501.51 L157.42 499.11 L157.18 496.35 L156.93 493.21 L156.68 489.78 L156.43 486.1 L156.19 482.26 L155.95 478.3 L155.73 474.31 L155.51 470.33 L155.31 466.44 L155.13 462.69 L154.95 459.02 L154.76 455.35 L154.56 451.69 L154.37 448.04 L154.21 444.41 L154.07 440.79 L153.97 437.18 L153.93 433.59 L153.94 430.01 L154.03 426.44 L154.19 422.86 L154.42 419.28 L154.7 415.7 L155.03 412.1 L155.4 408.5 L155.81 404.89 L156.25 401.28 L156.72 397.65 L157.2 394.01 L157.69 390.37 L158.2 386.69 L158.75 382.91 L159.32 379.09 L159.92 375.26 L160.54 371.45 L161.18 367.71 L161.83 364.07 L162.49 360.57 L163.16 357.25 L163.82 354.15 L164.49 351.3 L165.17 348.66 L165.85 346.18 L166.56 343.83 L167.27 341.56 L168 339.33 L168.75 337.12 L169.51 334.87 L170.29 332.57 L171.07 330.2 L171.84 327.85 L172.61 325.59 L173.37 323.38 L174.15 321.17 L174.94 318.94 L175.75 316.66 L176.59 314.3 L177.46 311.83 L178.37 309.23 L179.32 306.46 L180.35 303.4 L181.47 300.04 L182.65 296.46 L183.86 292.76 L185.08 289.04 L186.28 285.39 L187.44 281.93 L188.53 278.74 L189.51 275.94 L190.37 273.6 L191.1 271.63 L191.71 269.95 L192.2 268.6 L192.59 267.57 L192.87 266.88 L193.04 266.56 L193.03 266.56 L192.86 266.73 L192.68 266.86 L192.81 266.82 L193.04 266.73 L192.82 266.77 L192.09 266.78 L191.47 266.65 L191.41 266.63 L191.87 266.91 L192.72 267.46 L193.94 268.25 L195.54 269.28 L197.56 270.52 L199.98 271.99 L202.75 273.68 L205.86 275.58 L209.23 277.66 L212.87 279.85 L216.72 282.1 L220.69 284.47 L224.73 286.94 L228.78 289.48 L232.79 292.07 L237.05 294.94 L241.79 298.22 L246.85 301.79 L252.07 305.5 L257.27 309.24 L262.31 312.86 L267.02 316.23 L271.25 319.23 L274.83 321.73 L277.62 323.56 Z" fill="url(#leafg)" stroke="#395C25" stroke-width="1.5" stroke-linejoin="round"/>
<path d="M125.3 525.19 L123.02 528.64 L119.8 533.37 L115.93 539.03 L111.71 545.27 L107.45 551.75 L103.44 558.14 L99.96 564.09 L97.32 569.31 L95.59 573.77 L94.58 577.74 L94.1 581.31 L93.95 584.58 L93.92 587.68 L93.82 590.8 L93.46 594.17 L92.66 598.07 L91.44 602.68 L90.01 607.78 L88.42 613.2 L86.7 618.79 L84.87 624.42 L82.97 629.94 L81 635.21 L79.02 640.09 L76.96 644.6 L74.75 648.92 L72.43 653.08 L70.04 657.14 L67.61 661.12 L65.2 665.08 L62.84 669.04 L60.58 673.03 L58.33 677.21 L55.98 681.61 L53.62 686.08 L51.32 690.46 L49.17 694.57 L47.25 698.26 L45.63 701.35 L44.4 703.7 L47.4 705.3 L48.67 702.97 L50.33 699.9 L52.32 696.24 L54.53 692.17 L56.89 687.84 L59.31 683.42 L61.72 679.07 L64.02 674.97 L66.3 671.08 L68.68 667.21 L71.15 663.31 L73.65 659.34 L76.15 655.25 L78.6 651.01 L80.96 646.57 L83.18 641.91 L85.3 636.91 L87.39 631.56 L89.42 625.98 L91.36 620.31 L93.19 614.68 L94.88 609.22 L96.4 604.07 L97.74 599.33 L98.69 595.04 L99.16 591.23 L99.33 587.84 L99.4 584.77 L99.58 581.84 L100.02 578.85 L100.92 575.55 L102.48 571.69 L105.01 566.9 L108.44 561.23 L112.47 555.04 L116.78 548.7 L121.06 542.57 L125.01 536.98 L128.33 532.28 L130.7 528.81 Z" fill="#7A4410" stroke="#7A4410" stroke-width="0.6" stroke-linejoin="round" stroke-linecap="round"/>
<path d="M127.38 526.58 L125.07 530.05 L121.82 534.77 L117.93 540.41 L113.7 546.62 L109.43 553.05 L105.43 559.37 L101.98 565.22 L99.4 570.27 L97.75 574.49 L96.79 578.19 L96.33 581.53 L96.18 584.66 L96.14 587.75 L96.02 590.98 L95.62 594.53 L94.77 598.59 L93.51 603.26 L92.06 608.39 L90.44 613.82 L88.69 619.44 L86.82 625.09 L84.88 630.64 L82.88 635.95 L80.85 640.89 L78.73 645.47 L76.47 649.85 L74.1 654.06 L71.67 658.13 L69.22 662.12 L66.8 666.06 L64.44 669.98 L62.19 673.94 L59.92 678.09 L57.56 682.47 L55.19 686.93 L52.88 691.29 L50.71 695.39 L48.77 699.07 L47.14 702.16 L45.9 704.5 L45.9 704.5 L47.16 702.17 L48.81 699.09 L50.78 695.42 L52.97 691.34 L55.32 687 L57.73 682.56 L60.12 678.19 L62.41 674.06 L64.7 670.13 L67.08 666.23 L69.54 662.31 L72.02 658.34 L74.48 654.28 L76.88 650.08 L79.19 645.7 L81.35 641.11 L83.43 636.17 L85.47 630.86 L87.47 625.31 L89.38 619.66 L91.17 614.05 L92.84 608.62 L94.33 603.49 L95.63 598.81 L96.53 594.68 L96.96 591.05 L97.11 587.78 L97.17 584.69 L97.34 581.63 L97.81 578.4 L98.77 574.83 L100.4 570.73 L102.99 565.78 L106.45 560 L110.48 553.74 L114.79 547.36 L119.06 541.19 L122.99 535.58 L126.28 530.88 L128.62 527.42 Z" fill="#DDAA6C"/>
<path d="M136.18 525.48 L134.08 529.14 L131.18 534.06 L127.68 539.96 L123.84 546.52 L119.89 553.44 L116.08 560.42 L112.64 567.16 L109.81 573.37 L107.52 579.11 L105.48 584.74 L103.68 590.3 L102.12 595.79 L100.78 601.2 L99.67 606.54 L98.78 611.81 L98.1 617.08 L97.81 622.33 L98.03 627.41 L98.57 632.24 L99.27 636.88 L99.97 641.38 L100.53 645.81 L100.81 650.24 L100.68 654.79 L100.14 659.67 L99.3 664.87 L98.22 670.24 L96.98 675.7 L95.65 681.16 L94.28 686.52 L92.95 691.71 L91.73 696.61 L90.59 701.16 L89.47 705.45 L88.34 709.57 L87.2 713.57 L86.07 717.5 L84.93 721.44 L83.78 725.41 L82.63 729.51 L81.56 733.63 L80.6 737.64 L79.7 741.58 L78.78 745.49 L77.79 749.44 L76.64 753.5 L75.28 757.72 L73.64 762.16 L71.63 766.82 L69.27 771.67 L66.64 776.71 L63.85 781.94 L60.98 787.36 L58.13 792.95 L55.41 798.71 L52.93 804.64 L50.59 810.89 L48.27 817.56 L46 824.48 L43.82 831.49 L41.77 838.4 L39.89 845.04 L38.21 851.22 L36.79 856.79 L35.63 861.92 L34.73 866.8 L34.04 871.38 L33.52 875.6 L33.14 879.4 L32.83 882.71 L32.57 885.48 L32.31 887.67 L35.89 888.13 L36.19 885.89 L36.5 883.08 L36.86 879.79 L37.31 876.06 L37.89 871.95 L38.64 867.5 L39.6 862.77 L40.81 857.81 L42.32 852.34 L44.09 846.24 L46.07 839.69 L48.23 832.87 L50.51 825.97 L52.88 819.16 L55.28 812.63 L57.67 806.56 L60.18 800.89 L62.92 795.34 L65.8 789.92 L68.74 784.61 L71.64 779.41 L74.41 774.32 L76.95 769.32 L79.16 764.44 L80.99 759.76 L82.5 755.33 L83.78 751.1 L84.88 747.03 L85.88 743.07 L86.85 739.16 L87.85 735.26 L88.97 731.29 L90.17 727.29 L91.37 723.36 L92.58 719.46 L93.8 715.52 L95.01 711.5 L96.23 707.33 L97.46 702.97 L98.67 698.39 L99.96 693.54 L101.37 688.39 L102.83 683.01 L104.28 677.49 L105.64 671.89 L106.85 666.3 L107.83 660.8 L108.52 655.41 L108.74 650.17 L108.51 645.13 L107.98 640.33 L107.34 635.71 L106.73 631.23 L106.3 626.83 L106.18 622.45 L106.5 617.92 L107.21 613.13 L108.12 608.2 L109.24 603.19 L110.58 598.11 L112.15 592.95 L113.93 587.71 L115.95 582.4 L118.19 577.03 L120.93 571.26 L124.33 564.86 L128.14 558.13 L132.13 551.39 L136.03 544.96 L139.61 539.14 L142.62 534.21 L144.82 530.52 Z" fill="#7A4410" stroke="#7A4410" stroke-width="0.6" stroke-linejoin="round" stroke-linecap="round"/>
<path d="M138.34 526.74 L136.23 530.41 L133.32 535.35 L129.82 541.24 L125.99 547.79 L122.07 554.68 L118.28 561.6 L114.88 568.27 L112.1 574.37 L109.85 580.02 L107.84 585.57 L106.07 591.05 L104.53 596.45 L103.21 601.77 L102.12 607.02 L101.25 612.2 L100.58 617.33 L100.31 622.37 L100.52 627.23 L101.05 631.93 L101.75 636.52 L102.45 641.06 L103.02 645.6 L103.31 650.21 L103.18 654.99 L102.61 660.04 L101.75 665.33 L100.66 670.78 L99.41 676.3 L98.07 681.78 L96.7 687.16 L95.37 692.34 L94.15 697.23 L93.01 701.8 L91.87 706.12 L90.73 710.26 L89.58 714.27 L88.42 718.21 L87.27 722.13 L86.11 726.1 L84.96 730.16 L83.88 734.23 L82.91 738.21 L82 742.13 L81.06 746.07 L80.04 750.07 L78.86 754.19 L77.45 758.49 L75.76 763.03 L73.69 767.79 L71.27 772.7 L68.61 777.77 L65.78 783 L62.91 788.38 L60.07 793.91 L57.36 799.6 L54.88 805.43 L52.55 811.61 L50.22 818.23 L47.94 825.12 L45.74 832.09 L43.67 838.97 L41.77 845.58 L40.08 851.73 L38.64 857.26 L37.48 862.32 L36.58 867.13 L35.88 871.65 L35.36 875.82 L34.96 879.59 L34.64 882.89 L34.37 885.68 L34.1 887.9 L34.1 887.9 L34.39 885.68 L34.69 882.9 L35.04 879.6 L35.48 875.84 L36.05 871.68 L36.79 867.17 L37.75 862.37 L38.96 857.34 L40.45 851.83 L42.21 845.7 L44.17 839.12 L46.31 832.27 L48.58 825.33 L50.93 818.48 L53.32 811.9 L55.72 805.77 L58.24 800 L60.99 794.37 L63.87 788.89 L66.8 783.55 L69.68 778.35 L72.41 773.29 L74.9 768.36 L77.04 763.57 L78.82 758.98 L80.29 754.64 L81.52 750.48 L82.6 746.46 L83.58 742.51 L84.53 738.6 L85.53 734.66 L86.64 730.64 L87.84 726.61 L89.03 722.66 L90.23 718.75 L91.42 714.82 L92.62 710.81 L93.83 706.66 L95.04 702.33 L96.25 697.77 L97.54 692.91 L98.95 687.75 L100.41 682.39 L101.85 676.89 L103.2 671.35 L104.39 665.84 L105.36 660.44 L106.02 655.21 L106.24 650.19 L106.02 645.34 L105.51 640.65 L104.87 636.07 L104.25 631.53 L103.81 627 L103.68 622.42 L104.02 617.67 L104.74 612.75 L105.67 607.72 L106.81 602.62 L108.17 597.45 L109.76 592.21 L111.57 586.89 L113.62 581.49 L115.9 576.03 L118.69 570.15 L122.13 563.67 L125.97 556.89 L129.97 550.13 L133.88 543.68 L137.46 537.85 L140.47 532.93 L142.66 529.26 Z" fill="#DDAA6C"/>
<path d="M79 743.15 L77.17 746.06 L74.68 749.93 L71.71 754.55 L68.43 759.69 L65.02 765.14 L61.65 770.68 L58.51 776.08 L55.76 781.12 L53.27 786.17 L50.82 791.57 L48.44 797.09 L46.21 802.53 L44.16 807.67 L42.34 812.28 L40.82 816.14 L39.63 819.04 L42.77 820.36 L44.02 817.46 L45.62 813.61 L47.52 809.04 L49.65 803.97 L51.97 798.61 L54.42 793.2 L56.93 787.94 L59.44 783.08 L62.21 778.21 L65.4 772.96 L68.83 767.55 L72.32 762.21 L75.68 757.14 L78.74 752.59 L81.31 748.75 L83.2 745.85 Z" fill="#7A4410" stroke="#7A4410" stroke-width="0.6" stroke-linejoin="round" stroke-linecap="round"/>
<path d="M80.89 744.36 L79.04 747.27 L76.52 751.13 L73.52 755.73 L70.21 760.85 L66.78 766.26 L63.39 771.74 L60.24 777.07 L57.49 782.04 L55 787.01 L52.54 792.35 L50.15 797.82 L47.88 803.23 L45.8 808.34 L43.96 812.94 L42.41 816.8 L41.2 819.7 L41.2 819.7 L42.43 816.8 L44 812.95 L45.87 808.37 L47.98 803.27 L50.27 797.88 L52.7 792.42 L55.19 787.1 L57.71 782.16 L60.48 777.21 L63.66 771.9 L67.07 766.44 L70.54 761.05 L73.87 755.96 L76.9 751.38 L79.44 747.53 L81.31 744.64 Z" fill="#DDAA6C"/>
<path d="M140.68 526.68 L139.5 531.1 L137.87 537.06 L135.92 544.19 L133.78 552.08 L131.59 560.35 L129.46 568.62 L127.55 576.51 L125.97 583.61 L124.65 590.11 L123.42 596.49 L122.29 602.75 L121.3 608.87 L120.45 614.83 L119.78 620.59 L119.31 626.15 L119.06 631.48 L119.08 636.57 L119.37 641.39 L119.87 645.95 L120.55 650.28 L121.36 654.38 L122.25 658.29 L123.17 662.02 L124.12 665.7 L125.22 669.26 L126.55 672.48 L127.96 675.33 L129.35 677.93 L130.64 680.42 L131.8 682.94 L132.8 685.69 L133.61 688.9 L134.28 692.71 L134.86 696.96 L135.35 701.5 L135.73 706.26 L136 711.13 L136.17 716.03 L136.22 720.88 L136.17 725.58 L136.01 730.11 L135.71 734.55 L135.29 738.97 L134.77 743.43 L134.15 747.99 L133.45 752.69 L132.69 757.59 L131.89 762.71 L130.96 768.01 L129.84 773.46 L128.6 779.1 L127.29 784.92 L126.01 790.93 L124.8 797.1 L123.75 803.46 L122.92 809.96 L122.31 816.65 L121.84 823.55 L121.48 830.62 L121.24 837.81 L121.08 845.07 L121.01 852.34 L121.01 859.57 L121.05 866.71 L121.21 874.18 L121.52 882.2 L121.94 890.42 L122.41 898.53 L122.9 906.19 L123.36 913.07 L123.74 918.85 L124 923.19 L127.6 923.01 L127.42 918.65 L127.15 912.86 L126.83 905.97 L126.49 898.32 L126.17 890.23 L125.92 882.04 L125.76 874.09 L125.75 866.69 L125.84 859.6 L125.99 852.42 L126.2 845.2 L126.49 838.01 L126.87 830.9 L127.35 823.93 L127.95 817.15 L128.68 810.64 L129.6 804.37 L130.74 798.23 L132.03 792.22 L133.42 786.33 L134.83 780.55 L136.19 774.88 L137.45 769.31 L138.51 763.89 L139.43 758.71 L140.29 753.79 L141.09 749.04 L141.81 744.39 L142.44 739.8 L142.96 735.21 L143.36 730.56 L143.63 725.82 L143.76 720.93 L143.76 715.91 L143.65 710.83 L143.43 705.78 L143.1 700.83 L142.65 696.06 L142.09 691.54 L141.39 687.3 L140.46 683.42 L139.26 679.97 L137.92 676.93 L136.54 674.19 L135.22 671.65 L134.02 669.15 L132.97 666.53 L132.08 663.5 L131.24 660.03 L130.39 656.4 L129.59 652.69 L128.89 648.86 L128.31 644.88 L127.9 640.72 L127.7 636.35 L127.74 631.72 L128.03 626.77 L128.54 621.53 L129.25 616.02 L130.14 610.28 L131.19 604.33 L132.36 598.22 L133.66 591.95 L135.03 585.59 L136.65 578.69 L138.63 570.97 L140.83 562.83 L143.11 554.64 L145.33 546.81 L147.37 539.73 L149.08 533.76 L150.32 529.32 Z" fill="#7A4410" stroke="#7A4410" stroke-width="0.6" stroke-linejoin="round" stroke-linecap="round"/>
<path d="M143.09 527.34 L141.91 531.77 L140.28 537.74 L138.33 544.86 L136.19 552.74 L134 561 L131.89 569.24 L129.98 577.09 L128.41 584.14 L127.1 590.61 L125.88 596.96 L124.76 603.19 L123.77 609.26 L122.93 615.16 L122.27 620.86 L121.8 626.33 L121.56 631.55 L121.58 636.5 L121.86 641.2 L122.35 645.64 L123.02 649.86 L123.81 653.88 L124.68 657.72 L125.6 661.42 L126.53 665.03 L127.58 668.43 L128.83 671.46 L130.19 674.2 L131.57 676.78 L132.9 679.34 L134.12 682.02 L135.19 684.98 L136.06 688.4 L136.75 692.34 L137.35 696.67 L137.84 701.29 L138.22 706.1 L138.5 711.03 L138.67 715.99 L138.72 720.9 L138.66 725.66 L138.48 730.26 L138.16 734.77 L137.72 739.25 L137.17 743.76 L136.54 748.35 L135.82 753.07 L135.04 757.98 L134.21 763.13 L133.25 768.47 L132.11 773.97 L130.84 779.62 L129.52 785.43 L128.22 791.4 L127 797.52 L125.94 803.8 L125.1 810.22 L124.47 816.84 L123.98 823.7 L123.6 830.73 L123.33 837.89 L123.16 845.12 L123.06 852.37 L123.03 859.58 L123.05 866.7 L123.18 874.14 L123.46 882.13 L123.85 890.34 L124.3 898.43 L124.76 906.09 L125.19 912.97 L125.55 918.75 L125.8 923.1 L125.8 923.1 L125.61 918.75 L125.32 912.96 L124.97 906.07 L124.6 898.42 L124.26 890.32 L123.97 882.11 L123.79 874.13 L123.75 866.7 L123.82 859.59 L123.94 852.39 L124.13 845.15 L124.39 837.93 L124.75 830.79 L125.21 823.78 L125.79 816.96 L126.5 810.38 L127.41 804.03 L128.54 797.82 L129.82 791.75 L131.19 785.82 L132.58 780.03 L133.93 774.37 L135.15 768.85 L136.19 763.47 L137.08 758.32 L137.92 753.41 L138.7 748.68 L139.4 744.06 L140.01 739.52 L140.51 734.99 L140.89 730.41 L141.14 725.74 L141.26 720.91 L141.26 715.95 L141.16 710.93 L140.94 705.94 L140.61 701.05 L140.17 696.35 L139.61 691.91 L138.94 687.8 L138.06 684.13 L136.94 680.89 L135.66 678.01 L134.32 675.35 L132.99 672.78 L131.74 670.17 L130.62 667.36 L129.67 664.17 L128.81 660.63 L127.95 656.97 L127.14 653.19 L126.42 649.28 L125.83 645.2 L125.41 640.92 L125.2 636.41 L125.24 631.65 L125.54 626.6 L126.05 621.26 L126.77 615.68 L127.67 609.89 L128.72 603.9 L129.91 597.74 L131.21 591.45 L132.59 585.06 L134.22 578.11 L136.21 570.35 L138.41 562.18 L140.7 553.98 L142.93 546.14 L144.96 539.05 L146.67 533.09 L147.91 528.66 Z" fill="#DDAA6C"/>
<path d="M132.87 766.11 L131.23 768.16 L128.99 770.8 L126.27 773.99 L123.25 777.62 L120.1 781.61 L116.99 785.89 L114.08 790.36 L111.57 794.95 L109.38 799.64 L107.34 804.57 L105.41 809.72 L103.61 815.07 L101.92 820.6 L100.35 826.28 L98.89 832.08 L97.54 837.99 L96.39 844.18 L95.47 850.68 L94.71 857.36 L94.05 864.12 L93.41 870.86 L92.72 877.46 L91.91 883.81 L90.91 889.81 L89.65 895.77 L88.14 901.93 L86.5 908.1 L84.8 914.06 L83.16 919.62 L81.65 924.6 L80.39 928.8 L79.47 932.02 L82.73 932.98 L83.69 929.8 L85.01 925.64 L86.59 920.67 L88.32 915.11 L90.12 909.12 L91.88 902.92 L93.5 896.68 L94.89 890.59 L96 884.44 L96.92 877.97 L97.72 871.32 L98.46 864.58 L99.22 857.87 L100.06 851.29 L101.05 844.98 L102.26 839.01 L103.66 833.26 L105.17 827.59 L106.79 822.06 L108.52 816.69 L110.35 811.51 L112.28 806.56 L114.32 801.85 L116.43 797.45 L118.83 793.25 L121.6 789.11 L124.62 785.09 L127.71 781.29 L130.71 777.79 L133.46 774.67 L135.8 772 L137.53 769.89 Z" fill="#7A4410" stroke="#7A4410" stroke-width="0.6" stroke-linejoin="round" stroke-linecap="round"/>
<path d="M134.81 767.69 L133.14 769.76 L130.86 772.42 L128.13 775.58 L125.13 779.17 L122.01 783.08 L118.95 787.25 L116.1 791.59 L113.64 796.02 L111.5 800.59 L109.47 805.43 L107.55 810.5 L105.74 815.78 L104.05 821.24 L102.46 826.85 L100.99 832.6 L99.63 838.44 L98.47 844.53 L97.53 850.95 L96.75 857.59 L96.06 864.33 L95.39 871.07 L94.66 877.7 L93.82 884.1 L92.78 890.18 L91.47 896.2 L89.92 902.4 L88.24 908.59 L86.51 914.57 L84.84 920.14 L83.31 925.11 L82.03 929.3 L81.1 932.5 L81.1 932.5 L82.05 929.3 L83.35 925.13 L84.91 920.16 L86.61 914.6 L88.38 908.63 L90.1 902.45 L91.68 896.25 L93.02 890.22 L94.1 884.14 L94.98 877.74 L95.74 871.11 L96.45 864.37 L97.18 857.64 L98 851.02 L98.97 844.62 L100.17 838.56 L101.56 832.74 L103.06 827.01 L104.67 821.42 L106.38 815.99 L108.21 810.74 L110.15 805.7 L112.2 800.91 L114.36 796.38 L116.81 792.02 L119.65 787.74 L122.71 783.62 L125.83 779.75 L128.85 776.2 L131.59 773.05 L133.89 770.4 L135.59 768.31 Z" fill="#DDAA6C"/>
<path d="M145.01 527.76 L144.76 532.89 L144.43 539.73 L144.04 547.89 L143.6 556.94 L143.15 566.47 L142.7 576.07 L142.28 585.31 L141.91 593.77 L141.53 601.75 L141.11 609.79 L140.68 617.83 L140.27 625.78 L139.92 633.58 L139.67 641.13 L139.55 648.37 L139.6 655.2 L139.81 661.51 L140.13 667.35 L140.56 672.83 L141.11 678.06 L141.77 683.13 L142.53 688.15 L143.41 693.22 L144.4 698.48 L145.55 703.91 L146.89 709.34 L148.36 714.72 L149.91 720.07 L151.51 725.39 L153.12 730.67 L154.69 735.92 L156.2 741.2 L157.8 746.55 L159.53 751.85 L161.3 757.05 L163.02 762.19 L164.61 767.29 L165.99 772.37 L167.15 777.46 L167.97 782.62 L168.41 787.79 L168.53 792.9 L168.4 798.08 L168.07 803.45 L167.61 809.11 L167.09 815.17 L166.58 821.72 L166.16 828.81 L165.75 836.5 L165.24 844.76 L164.68 853.51 L164.1 862.59 L163.53 871.86 L163.03 881.2 L162.63 890.45 L162.36 899.49 L162.25 908.51 L162.24 917.74 L162.33 927.05 L162.48 936.3 L162.67 945.38 L162.89 954.15 L163.09 962.47 L163.27 970.23 L163.46 977.67 L163.67 985.02 L163.9 992.11 L164.15 998.81 L164.38 1004.96 L164.59 1010.39 L164.77 1014.97 L164.9 1018.54 L168.5 1018.46 L168.46 1014.88 L168.4 1010.29 L168.33 1004.85 L168.25 998.71 L168.19 992.02 L168.14 984.93 L168.11 977.6 L168.13 970.17 L168.15 962.41 L168.15 954.08 L168.17 945.33 L168.21 936.27 L168.3 927.05 L168.45 917.79 L168.69 908.64 L169.04 899.71 L169.53 890.79 L170.17 881.64 L170.91 872.38 L171.7 863.16 L172.52 854.12 L173.31 845.38 L174.03 837.08 L174.64 829.39 L175.24 822.42 L175.9 816 L176.58 809.98 L177.2 804.22 L177.69 798.61 L177.97 793.04 L177.98 787.39 L177.63 781.58 L176.86 775.72 L175.71 770.02 L174.21 764.5 L172.54 759.12 L170.78 753.86 L169.02 748.68 L167.34 743.56 L165.8 738.4 L164.28 733.11 L162.69 727.78 L161.08 722.49 L159.5 717.24 L157.98 712.02 L156.57 706.83 L155.3 701.67 L154.2 696.52 L153.25 691.45 L152.4 686.54 L151.67 681.73 L151.04 676.89 L150.52 671.92 L150.11 666.69 L149.8 661.08 L149.6 655 L149.55 648.41 L149.66 641.38 L149.91 633.97 L150.26 626.27 L150.66 618.36 L151.1 610.32 L151.52 602.25 L151.89 594.23 L152.27 585.76 L152.69 576.53 L153.13 566.94 L153.59 557.42 L154.02 548.37 L154.42 540.22 L154.75 533.37 L154.99 528.24 Z" fill="#7A4410" stroke="#7A4410" stroke-width="0.6" stroke-linejoin="round" stroke-linecap="round"/>
<path d="M147.5 527.88 L147.26 533.01 L146.93 539.85 L146.53 548.01 L146.1 557.06 L145.64 566.59 L145.19 576.18 L144.77 585.42 L144.4 593.89 L144.03 601.88 L143.61 609.93 L143.17 617.96 L142.77 625.9 L142.42 633.67 L142.16 641.19 L142.05 648.38 L142.1 655.15 L142.31 661.4 L142.62 667.18 L143.05 672.6 L143.59 677.77 L144.24 682.78 L145 687.75 L145.87 692.78 L146.85 697.99 L147.99 703.35 L149.31 708.71 L150.76 714.05 L152.31 719.37 L153.9 724.67 L155.51 729.95 L157.09 735.22 L158.6 740.5 L160.18 745.8 L161.9 751.06 L163.67 756.26 L165.4 761.42 L167.01 766.59 L168.42 771.78 L169.59 777.02 L170.42 782.36 L170.86 787.69 L170.97 792.94 L170.82 798.22 L170.47 803.65 L169.99 809.34 L169.45 815.39 L168.93 821.91 L168.49 828.97 L168.06 836.66 L167.53 844.94 L166.94 853.68 L166.33 862.76 L165.74 872.02 L165.21 881.33 L164.79 890.56 L164.5 899.56 L164.36 908.55 L164.33 917.76 L164.39 927.05 L164.51 936.29 L164.68 945.36 L164.87 954.12 L165.05 962.45 L165.21 970.21 L165.37 977.64 L165.56 984.98 L165.78 992.07 L166 998.77 L166.22 1004.91 L166.41 1010.35 L166.58 1014.93 L166.7 1018.5 L166.7 1018.5 L166.65 1014.93 L166.58 1010.34 L166.49 1004.9 L166.4 998.76 L166.31 992.06 L166.24 984.97 L166.2 977.63 L166.19 970.19 L166.19 962.44 L166.17 954.11 L166.16 945.35 L166.18 936.28 L166.24 927.05 L166.36 917.77 L166.58 908.59 L166.9 899.64 L167.37 890.69 L167.98 881.5 L168.7 872.23 L169.47 862.99 L170.26 853.94 L171.03 845.2 L171.72 836.92 L172.31 829.23 L172.89 822.23 L173.54 815.78 L174.2 809.75 L174.8 804.02 L175.27 798.48 L175.54 793 L175.53 787.49 L175.18 781.84 L174.41 776.16 L173.28 770.61 L171.81 765.2 L170.16 759.89 L168.41 754.66 L166.65 749.47 L164.95 744.31 L163.4 739.1 L161.88 733.81 L160.3 728.51 L158.69 723.22 L157.1 717.95 L155.58 712.69 L154.15 707.45 L152.86 702.23 L151.75 697.01 L150.79 691.89 L149.94 686.94 L149.19 682.08 L148.56 677.18 L148.03 672.15 L147.61 666.85 L147.3 661.19 L147.1 655.05 L147.05 648.4 L147.16 641.32 L147.41 633.87 L147.76 626.15 L148.17 618.22 L148.6 610.19 L149.02 602.12 L149.4 594.11 L149.77 585.64 L150.19 576.41 L150.64 566.83 L151.09 557.3 L151.53 548.25 L151.92 540.1 L152.25 533.25 L152.5 528.12 Z" fill="#DDAA6C"/>
<path d="M170.44 792.32 L171.71 795.94 L173.39 800.74 L175.39 806.47 L177.62 812.85 L180 819.59 L182.44 826.43 L184.86 833.09 L187.18 839.3 L189.48 845.21 L191.88 851.13 L194.34 857.05 L196.81 862.96 L199.26 868.84 L201.65 874.68 L203.94 880.46 L206.1 886.18 L208.2 892.14 L210.33 898.49 L212.44 904.98 L214.46 911.35 L216.33 917.36 L217.99 922.76 L219.4 927.3 L220.48 930.73 L223.92 929.67 L222.87 926.23 L221.51 921.69 L219.9 916.27 L218.08 910.23 L216.12 903.82 L214.06 897.28 L211.97 890.86 L209.9 884.82 L207.78 879.01 L205.52 873.14 L203.18 867.25 L200.77 861.33 L198.36 855.4 L195.97 849.48 L193.64 843.58 L191.42 837.7 L189.18 831.52 L186.83 824.87 L184.46 818.03 L182.15 811.28 L179.98 804.89 L178.04 799.15 L176.4 794.32 L175.16 790.68 Z" fill="#7A4410" stroke="#7A4410" stroke-width="0.6" stroke-linejoin="round" stroke-linecap="round"/>
<path d="M172.56 791.58 L173.83 795.21 L175.49 800.02 L177.47 805.76 L179.68 812.13 L182.04 818.88 L184.46 825.71 L186.85 832.36 L189.15 838.56 L191.42 844.45 L193.79 850.36 L196.23 856.28 L198.68 862.19 L201.12 868.09 L203.5 873.95 L205.78 879.77 L207.93 885.53 L210.02 891.53 L212.14 897.9 L214.23 904.41 L216.24 910.8 L218.09 916.82 L219.74 922.23 L221.13 926.77 L222.2 930.2 L222.2 930.2 L221.14 926.77 L219.77 922.22 L218.14 916.81 L216.3 910.78 L214.32 904.38 L212.25 897.87 L210.15 891.48 L208.07 885.47 L205.95 879.7 L203.68 873.87 L201.32 868 L198.91 862.1 L196.47 856.18 L194.06 850.25 L191.71 844.33 L189.45 838.44 L187.19 832.24 L184.81 825.59 L182.42 818.74 L180.08 811.99 L177.89 805.61 L175.94 799.87 L174.29 795.05 L173.04 791.42 Z" fill="#DDAA6C"/>
<path d="M160.91 531.01 L162.06 534.46 L163.6 539.19 L165.44 544.84 L167.48 551.06 L169.62 557.47 L171.76 563.72 L173.8 569.45 L175.65 574.3 L177.29 578.35 L178.82 581.98 L180.29 585.3 L181.75 588.36 L183.24 591.23 L184.81 593.97 L186.48 596.64 L188.34 599.35 L190.49 602 L192.86 604.37 L195.3 606.51 L197.72 608.48 L200.01 610.36 L202.1 612.22 L203.91 614.11 L205.41 616.12 L206.63 618.36 L207.68 620.85 L208.58 623.52 L209.37 626.31 L210.1 629.17 L210.83 632.03 L211.62 634.85 L212.53 637.51 L213.48 639.93 L214.39 642.12 L215.28 644.2 L216.17 646.22 L217.08 648.22 L218.02 650.27 L219.01 652.42 L220.06 654.74 L221.18 657.18 L222.34 659.66 L223.53 662.17 L224.76 664.77 L226.02 667.46 L227.32 670.29 L228.66 673.29 L230.03 676.49 L231.44 679.92 L232.88 683.57 L234.36 687.42 L235.89 691.41 L237.46 695.52 L239.09 699.69 L240.77 703.89 L242.52 708.08 L244.44 712.53 L246.6 717.38 L248.88 722.42 L251.17 727.44 L253.37 732.2 L255.35 736.5 L257.02 740.1 L258.25 742.79 L261.35 741.41 L260.16 738.69 L258.56 735.05 L256.66 730.72 L254.55 725.92 L252.35 720.88 L250.17 715.82 L248.11 710.95 L246.28 706.52 L244.64 702.35 L243.05 698.17 L241.51 693.99 L240.01 689.88 L238.56 685.85 L237.13 681.96 L235.74 678.23 L234.37 674.71 L233.03 671.43 L231.72 668.35 L230.46 665.46 L229.23 662.71 L228.04 660.09 L226.9 657.56 L225.8 655.1 L224.74 652.66 L223.73 650.32 L222.77 648.14 L221.87 646.08 L221.01 644.09 L220.18 642.12 L219.35 640.09 L218.51 637.95 L217.67 635.69 L216.88 633.25 L216.18 630.63 L215.48 627.81 L214.76 624.88 L213.93 621.88 L212.95 618.88 L211.73 615.93 L210.19 613.08 L208.28 610.46 L206.1 608.12 L203.77 606.01 L201.39 604.02 L199.06 602.09 L196.86 600.13 L194.85 598.09 L193.06 595.85 L191.43 593.42 L189.91 590.95 L188.49 588.41 L187.12 585.72 L185.76 582.81 L184.38 579.61 L182.91 576.05 L181.35 572.1 L179.59 567.36 L177.63 561.7 L175.56 555.49 L173.49 549.09 L171.51 542.88 L169.72 537.22 L168.21 532.46 L167.09 528.99 Z" fill="#7A4410" stroke="#7A4410" stroke-width="0.6" stroke-linejoin="round" stroke-linecap="round"/>
<path d="M163.29 530.23 L164.44 533.69 L165.98 538.42 L167.82 544.07 L169.86 550.28 L171.99 556.68 L174.13 562.91 L176.16 568.6 L177.98 573.4 L179.6 577.4 L181.12 581 L182.57 584.26 L184 587.25 L185.45 590.05 L186.96 592.7 L188.58 595.28 L190.35 597.86 L192.35 600.33 L194.58 602.55 L196.93 604.6 L199.31 606.55 L201.65 608.47 L203.85 610.43 L205.83 612.51 L207.52 614.78 L208.89 617.28 L210.02 619.97 L210.97 622.79 L211.79 625.67 L212.53 628.56 L213.25 631.39 L214.02 634.12 L214.87 636.68 L215.77 639.03 L216.65 641.2 L217.52 643.25 L218.39 645.25 L219.28 647.24 L220.2 649.29 L221.18 651.45 L222.21 653.78 L223.31 656.22 L224.44 658.69 L225.62 661.21 L226.83 663.81 L228.08 666.53 L229.37 669.39 L230.7 672.42 L232.06 675.66 L233.45 679.13 L234.88 682.81 L236.34 686.68 L237.84 690.69 L239.38 694.79 L240.98 698.96 L242.62 703.16 L244.33 707.33 L246.21 711.77 L248.33 716.62 L250.57 721.67 L252.83 726.7 L254.99 731.47 L256.94 735.78 L258.58 739.4 L259.8 742.1 L259.8 742.1 L258.6 739.39 L256.97 735.77 L255.03 731.45 L252.9 726.67 L250.66 721.63 L248.44 716.57 L246.34 711.71 L244.47 707.27 L242.79 703.09 L241.16 698.89 L239.59 694.72 L238.06 690.6 L236.58 686.59 L235.13 682.71 L233.72 679.02 L232.34 675.54 L230.99 672.3 L229.68 669.26 L228.4 666.39 L227.16 663.66 L225.96 661.05 L224.79 658.53 L223.67 656.06 L222.59 653.62 L221.56 651.28 L220.6 649.11 L219.68 647.06 L218.8 645.07 L217.94 643.07 L217.08 641.02 L216.22 638.85 L215.33 636.52 L214.49 633.98 L213.76 631.26 L213.06 628.42 L212.34 625.52 L211.54 622.61 L210.61 619.75 L209.47 617 L208.08 614.42 L206.37 612.06 L204.35 609.91 L202.13 607.9 L199.8 605.95 L197.44 603.99 L195.14 601.95 L192.99 599.76 L191.05 597.34 L189.34 594.79 L187.76 592.22 L186.29 589.59 L184.88 586.82 L183.49 583.84 L182.08 580.59 L180.6 577 L179.02 573 L177.24 568.21 L175.27 562.51 L173.19 556.28 L171.12 549.87 L169.13 543.65 L167.34 537.98 L165.83 533.23 L164.71 529.77 Z" fill="#DDAA6C"/>
<path d="M153.55 530.61 L154.29 534.61 L155.26 540.05 L156.42 546.55 L157.71 553.71 L159.08 561.14 L160.48 568.46 L161.85 575.28 L163.14 581.19 L164.34 586.36 L165.51 591.26 L166.67 595.9 L167.85 600.32 L169.08 604.51 L170.38 608.49 L171.79 612.27 L173.33 615.87 L175.04 619.24 L176.87 622.29 L178.8 625.07 L180.78 627.6 L182.78 629.92 L184.76 632.08 L186.7 634.12 L188.63 636.16 L190.75 638.12 L193 639.77 L195.19 641.13 L197.23 642.33 L199.04 643.48 L200.59 644.67 L201.86 645.98 L202.88 647.56 L203.7 649.64 L204.34 652.2 L204.81 655.12 L205.14 658.28 L205.4 661.56 L205.65 664.86 L205.95 668.09 L206.36 671.08 L206.82 673.79 L207.24 676.33 L207.65 678.79 L208.07 681.19 L208.52 683.58 L209.02 685.98 L209.6 688.4 L210.28 690.9 L211.07 693.36 L211.96 695.67 L212.9 697.88 L213.87 700.06 L214.85 702.31 L215.83 704.72 L216.79 707.39 L217.72 710.43 L218.64 713.91 L219.57 717.77 L220.51 721.91 L221.45 726.27 L222.39 730.77 L223.34 735.32 L224.28 739.87 L225.23 744.31 L226.14 748.83 L227.02 753.6 L227.89 758.5 L228.77 763.41 L229.68 768.2 L230.65 772.74 L231.7 776.92 L232.86 780.62 L234.24 783.87 L235.83 786.75 L237.53 789.28 L239.24 791.47 L240.88 793.34 L242.34 794.91 L243.52 796.2 L244.37 797.26 L247.03 795.14 L246.12 793.98 L244.89 792.6 L243.49 791.03 L241.97 789.25 L240.42 787.21 L238.91 784.9 L237.53 782.31 L236.34 779.38 L235.31 775.93 L234.36 771.91 L233.48 767.46 L232.65 762.72 L231.85 757.83 L231.05 752.9 L230.23 748.07 L229.37 743.49 L228.49 739.02 L227.61 734.47 L226.73 729.89 L225.85 725.37 L224.97 720.96 L224.08 716.75 L223.19 712.8 L222.28 709.17 L221.34 705.92 L220.35 703.04 L219.36 700.46 L218.38 698.12 L217.44 695.94 L216.58 693.83 L215.81 691.73 L215.12 689.5 L214.53 687.18 L214.02 684.89 L213.57 682.61 L213.17 680.31 L212.8 677.95 L212.43 675.51 L212.05 672.95 L211.64 670.32 L211.29 667.52 L211.06 664.45 L210.86 661.18 L210.63 657.81 L210.31 654.42 L209.81 651.12 L209.06 647.96 L207.92 645.04 L206.33 642.51 L204.42 640.46 L202.35 638.82 L200.25 637.46 L198.2 636.22 L196.26 634.99 L194.47 633.66 L192.77 632.04 L190.98 630.1 L189.1 628.08 L187.23 626.01 L185.41 623.84 L183.64 621.54 L181.95 619.05 L180.35 616.34 L178.87 613.33 L177.5 610.03 L176.22 606.48 L175.03 602.7 L173.89 598.66 L172.79 594.36 L171.69 589.78 L170.59 584.93 L169.46 579.81 L168.25 573.98 L166.96 567.23 L165.65 559.95 L164.36 552.53 L163.15 545.37 L162.06 538.87 L161.14 533.41 L160.45 529.39 Z" fill="#7A4410" stroke="#7A4410" stroke-width="0.6" stroke-linejoin="round" stroke-linecap="round"/>
<path d="M156.02 530.18 L156.75 534.18 L157.72 539.62 L158.88 546.12 L160.17 553.27 L161.54 560.69 L162.94 567.99 L164.3 574.78 L165.58 580.66 L166.78 585.8 L167.94 590.68 L169.09 595.29 L170.26 599.65 L171.47 603.78 L172.75 607.68 L174.11 611.36 L175.6 614.83 L177.23 618.04 L178.98 620.95 L180.82 623.59 L182.72 626.02 L184.66 628.27 L186.6 630.38 L188.52 632.41 L190.4 634.4 L192.35 636.2 L194.41 637.7 L196.49 639 L198.54 640.21 L200.49 641.44 L202.27 642.82 L203.83 644.44 L205.12 646.44 L206.09 648.89 L206.79 651.71 L207.29 654.81 L207.63 658.07 L207.88 661.39 L208.11 664.68 L208.39 667.83 L208.77 670.73 L209.21 673.41 L209.62 675.95 L210.01 678.4 L210.41 680.79 L210.84 683.13 L211.32 685.48 L211.87 687.84 L212.51 690.25 L213.26 692.61 L214.1 694.82 L215.01 696.98 L215.96 699.16 L216.94 701.45 L217.93 703.94 L218.91 706.71 L219.85 709.84 L220.76 713.39 L221.68 717.29 L222.6 721.47 L223.52 725.84 L224.44 730.35 L225.36 734.92 L226.28 739.46 L227.2 743.92 L228.1 748.47 L228.96 753.26 L229.8 758.18 L230.65 763.08 L231.53 767.84 L232.46 772.34 L233.47 776.44 L234.57 780.01 L235.86 783.1 L237.35 785.84 L238.96 788.25 L240.6 790.36 L242.18 792.19 L243.61 793.76 L244.82 795.09 L245.7 796.2 L245.7 796.2 L244.82 795.08 L243.62 793.75 L242.19 792.18 L240.62 790.35 L238.99 788.23 L237.39 785.82 L235.91 783.08 L234.63 779.99 L233.55 776.42 L232.55 772.32 L231.64 767.82 L230.78 763.06 L229.94 758.15 L229.12 753.24 L228.28 748.44 L227.4 743.88 L226.49 739.42 L225.59 734.87 L224.68 730.3 L223.78 725.79 L222.87 721.41 L221.97 717.23 L221.06 713.32 L220.15 709.76 L219.22 706.6 L218.25 703.82 L217.27 701.32 L216.29 699.02 L215.34 696.83 L214.45 694.68 L213.62 692.48 L212.89 690.15 L212.26 687.74 L211.72 685.39 L211.25 683.06 L210.83 680.71 L210.44 678.33 L210.05 675.88 L209.66 673.34 L209.23 670.67 L208.85 667.78 L208.59 664.64 L208.38 661.36 L208.14 658.02 L207.83 654.74 L207.36 651.6 L206.67 648.71 L205.68 646.16 L204.35 644.04 L202.73 642.31 L200.9 640.86 L198.93 639.58 L196.89 638.35 L194.85 637.05 L192.87 635.58 L191 633.8 L189.15 631.81 L187.26 629.78 L185.35 627.66 L183.47 625.42 L181.62 623.01 L179.84 620.4 L178.16 617.53 L176.6 614.37 L175.17 610.94 L173.86 607.3 L172.63 603.43 L171.48 599.32 L170.36 594.97 L169.26 590.36 L168.16 585.49 L167.02 580.34 L165.8 574.47 L164.51 567.69 L163.19 560.39 L161.9 552.97 L160.69 545.8 L159.6 539.3 L158.68 533.84 L157.98 529.82 Z" fill="#DDAA6C"/>
<path d="M174.08 616.53 L173.67 617.99 L173.09 619.93 L172.37 622.28 L171.6 624.91 L170.83 627.74 L170.13 630.66 L169.57 633.59 L169.21 636.4 L169.05 639.03 L169.04 641.52 L169.13 643.98 L169.32 646.48 L169.57 649.11 L169.86 651.95 L170.19 655.1 L170.51 658.66 L170.9 663 L171.4 668.15 L171.96 673.79 L172.54 679.59 L173.12 685.22 L173.65 690.34 L174.09 694.63 L174.41 697.76 L177.79 697.44 L177.5 694.3 L177.1 690 L176.63 684.87 L176.11 679.25 L175.58 673.45 L175.07 667.81 L174.63 662.67 L174.29 658.34 L173.99 654.75 L173.7 651.57 L173.43 648.74 L173.21 646.17 L173.06 643.78 L172.99 641.48 L173.03 639.18 L173.19 636.8 L173.54 634.24 L174.09 631.54 L174.78 628.77 L175.55 626.05 L176.33 623.48 L177.07 621.16 L177.69 619.18 L178.12 617.67 Z" fill="#7A4410" stroke="#7A4410" stroke-width="0.6" stroke-linejoin="round" stroke-linecap="round"/>
<path d="M188.22 636.28 L188.01 637.93 L187.7 640.11 L187.32 642.74 L186.92 645.7 L186.53 648.86 L186.2 652.12 L185.98 655.37 L185.9 658.48 L185.95 661.49 L186.08 664.54 L186.28 667.64 L186.56 670.77 L186.92 673.92 L187.35 677.08 L187.86 680.22 L188.46 683.36 L189.17 686.43 L190.01 689.36 L190.94 692.22 L191.92 695.06 L192.93 697.96 L193.95 701 L194.94 704.26 L195.89 707.83 L196.86 711.79 L197.88 716.08 L198.92 720.61 L199.96 725.3 L200.96 730.07 L201.88 734.86 L202.71 739.58 L203.41 744.16 L203.95 748.67 L204.33 753.23 L204.61 757.83 L204.83 762.42 L205.03 766.99 L205.26 771.5 L205.56 775.91 L205.97 780.2 L206.53 784.52 L207.21 788.97 L207.95 793.41 L208.72 797.71 L209.46 801.73 L210.14 805.31 L210.71 808.31 L211.13 810.59 L214.47 810.01 L214.08 807.7 L213.54 804.68 L212.89 801.1 L212.18 797.1 L211.46 792.82 L210.76 788.42 L210.14 784.03 L209.63 779.8 L209.26 775.63 L209.01 771.29 L208.83 766.83 L208.67 762.26 L208.49 757.63 L208.25 752.96 L207.89 748.28 L207.39 743.64 L206.71 738.95 L205.91 734.14 L205.02 729.28 L204.05 724.44 L203.05 719.7 L202.04 715.13 L201.05 710.8 L200.11 706.77 L199.16 703.08 L198.16 699.68 L197.14 696.55 L196.15 693.61 L195.21 690.81 L194.34 688.06 L193.58 685.31 L192.94 682.44 L192.4 679.44 L191.94 676.41 L191.54 673.36 L191.23 670.32 L190.99 667.3 L190.82 664.31 L190.72 661.37 L190.7 658.52 L190.8 655.62 L191.04 652.55 L191.38 649.42 L191.78 646.35 L192.21 643.45 L192.61 640.84 L192.95 638.62 L193.18 636.92 Z" fill="#7A4410" stroke="#7A4410" stroke-width="0.6" stroke-linejoin="round" stroke-linecap="round"/>
<path d="M190.45 636.57 L190.24 638.24 L189.91 640.44 L189.53 643.06 L189.12 645.99 L188.72 649.12 L188.39 652.32 L188.16 655.48 L188.08 658.5 L188.12 661.44 L188.24 664.43 L188.43 667.48 L188.69 670.56 L189.03 673.66 L189.45 676.77 L189.95 679.86 L190.52 682.94 L191.2 685.91 L192.01 688.76 L192.91 691.57 L193.88 694.39 L194.89 697.31 L195.9 700.39 L196.9 703.71 L197.86 707.34 L198.82 711.33 L199.83 715.63 L200.86 720.18 L201.89 724.89 L202.87 729.7 L203.79 734.52 L204.61 739.28 L205.31 743.91 L205.83 748.48 L206.21 753.1 L206.48 757.73 L206.68 762.35 L206.87 766.91 L207.08 771.4 L207.36 775.77 L207.76 780 L208.3 784.28 L208.95 788.7 L209.68 793.12 L210.43 797.41 L211.16 801.41 L211.83 804.99 L212.39 808 L212.8 810.3 L212.8 810.3 L212.4 808 L211.85 804.99 L211.19 801.41 L210.47 797.4 L209.73 793.11 L209.02 788.69 L208.37 784.27 L207.84 780 L207.46 775.76 L207.19 771.39 L206.99 766.91 L206.82 762.34 L206.63 757.73 L206.37 753.09 L206.01 748.47 L205.49 743.89 L204.81 739.25 L204.01 734.48 L203.1 729.65 L202.13 724.84 L201.11 720.13 L200.09 715.57 L199.09 711.26 L198.14 707.26 L197.2 703.62 L196.2 700.29 L195.19 697.2 L194.2 694.28 L193.24 691.46 L192.35 688.66 L191.55 685.82 L190.88 682.86 L190.32 679.8 L189.83 676.71 L189.43 673.62 L189.09 670.52 L188.84 667.45 L188.66 664.41 L188.55 661.43 L188.52 658.5 L188.61 655.5 L188.85 652.36 L189.18 649.17 L189.58 646.06 L190 643.13 L190.4 640.51 L190.73 638.31 L190.95 636.63 Z" fill="#DDAA6C"/>
<line x1="128" y1="427" x2="128" y2="1047.5" stroke="#000" stroke-width="5.2" />
<path d="M124 529 L133 512.5 L164.5 512.5 L167.5 540.5 Q152 533 137 537 Z" fill="#558536" stroke="#395C25" stroke-width="1.3" stroke-linejoin="round"/>
<path d="M140 513 Q136 525 137 536" fill="none" stroke="#395C25" stroke-width="1.2"/>
<line x1="125.4" y1="1047" x2="412.8" y2="1044.5" stroke="#000" stroke-width="6" />
<line x1="314.8" y1="509.9" x2="410.2" y2="415.9" stroke="#000" stroke-width="6.3" />
<line x1="28.9" y1="1142.9" x2="128" y2="1047" stroke="#000" stroke-width="6" />
<line x1="314.8" y1="1142.9" x2="410.2" y2="1045" stroke="#000" stroke-width="6.3" />
<line x1="28.9" y1="507" x2="28.9" y2="1146" stroke="#000" stroke-width="5.4" />
<line x1="314.8" y1="507" x2="314.8" y2="1146" stroke="#000" stroke-width="5.8" />
<line x1="26.2" y1="509.9" x2="317.7" y2="509.9" stroke="#000" stroke-width="8" />
<line x1="26.2" y1="1142.9" x2="317.7" y2="1142.9" stroke="#000" stroke-width="6.4" />
<text x="398.2" y="205.4" font-size="30.3" text-anchor="middle" >root-free</text>
<text x="398.2" y="243.4" font-size="30.3" text-anchor="middle" >hyphal ingrowth core</text>
<text x="398.2" y="278.4" font-size="30.3" text-anchor="middle" >(25 µm mesh)</text>
<line x1="390.6" y1="304.7" x2="313.5" y2="472.5" stroke="#000" stroke-width="4" />
<path d="M308.8 483.2 L308.8 458.1 L315.5 470.7 L329.6 467.3 Z" fill="#000"/>
<text x="498" y="710.3" font-size="30.5">H<tspan font-size="20" dy="4">2</tspan><tspan font-size="20" dy="-14">16</tspan><tspan dy="10">O or H</tspan><tspan font-size="20" dy="4">2</tspan><tspan font-size="20" dy="-14">18</tspan><tspan dy="10">O</tspan></text>
<line x1="596.3" y1="723.2" x2="596.3" y2="790" stroke="#000" stroke-width="3.8" />
<path d="M596.6 809.7 L584.5 787.5 L596.3 793 L608.5 787.5 Z" fill="#000"/>
<path d="M474.2 885 L474.2 1079.5 A127.5 32 0 0 0 729.2 1079.5 L729.2 885 Z" fill="#F9FAFD"/>
<path d="M474.2 885 L474.2 1079.5 A127.5 32 0 0 0 729.2 1079.5 L729.2 885" fill="none" stroke="#8A8A8A" stroke-width="1.2"/>
<path d="M474.2 1079.5 A127.5 32 0 0 1 729.2 1079.5" fill="none" stroke="#8A8A8A" stroke-width="1.2"/>
<path d="M536.3 982.6 L536.3 1074 A61.7 16 0 0 0 659.7 1074 L659.7 982.6 Z" fill="#F8F9FE"/>
<path d="M536.3 982.6 L536.3 1074 A61.7 16 0 0 0 659.7 1074 L659.7 982.6" fill="none" stroke="#8A8A8A" stroke-width="1.2"/>
<path d="M536.3 1039.7 L536.3 1074 A61.7 16 0 0 0 659.7 1074 L659.7 1039.7 Z" fill="#E6DCB9"/>
<path d="M536.3 1039.7 L536.3 1074 A61.7 16 0 0 0 659.7 1074 L659.7 1039.7" fill="none" stroke="#8A8A8A" stroke-width="1.2"/>
<ellipse cx="598" cy="1039.7" rx="61.7" ry="16.4" fill="#F0EBD6" stroke="#8A8A8A" stroke-width="1.2"/>
<ellipse cx="598" cy="982.6" rx="61.7" ry="15.4" fill="none" stroke="#8A8A8A" stroke-width="1.2"/>
<path d="M467.3 842.7 L467.3 885 A133.7 21 0 0 0 734.7 885 L734.7 842.7 Z" fill="url(#lidside)" stroke="#7A7A7A" stroke-width="1.1"/>
<ellipse cx="601" cy="842.7" rx="133.7" ry="21.7" fill="url(#lidtop)" stroke="#7A7A7A" stroke-width="1.1"/>
<path d="M570.8 831.3 L570.8 843.3 A23.4 5.8 0 0 0 617.6 843.3 L617.6 831.3 Z" fill="#404040" stroke="#111" stroke-width="1.1"/>
<ellipse cx="594.2" cy="831.3" rx="23.4" ry="5.8" fill="#8F8F8F" stroke="#111" stroke-width="1.1"/>
<path d="M339.1 914.2 C372 948 430 985 499 998.5" fill="none" stroke="#000" stroke-width="6.2"/>
<path d="M523.9 1001.2 L496.7 986.7 L495 1010.2 Z" fill="#000"/>
</svg></body></html>
